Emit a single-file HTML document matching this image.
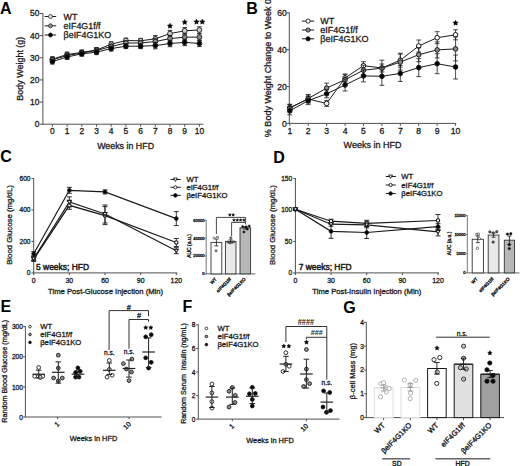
<!DOCTYPE html><html><head><meta charset="utf-8"><title>Figure</title>
<style>html,body{margin:0;padding:0;background:#fff;}body{width:520px;height:466px;overflow:hidden;}svg{display:block;}</style>
</head><body>
<svg width="520" height="466" viewBox="0 0 520 466">
<rect width="520" height="466" fill="#fff"/>
<text x="0.00" y="14.00" font-size="16" text-anchor="start" font-weight="bold" fill="#000" font-family='"Liberation Sans", sans-serif' >A</text>
<line x1="42.90" y1="13.00" x2="42.90" y2="124.20" stroke="#505050" stroke-width="1.0" />
<line x1="42.40" y1="124.20" x2="203.50" y2="124.20" stroke="#505050" stroke-width="1.0" />
<line x1="39.70" y1="124.20" x2="42.90" y2="124.20" stroke="#505050" stroke-width="1.0" />
<text x="39.30" y="127.10" font-size="8.4" text-anchor="end" font-weight="normal" fill="#1a1a1a" stroke="#1a1a1a" stroke-width="0.3" font-family='"Liberation Sans", sans-serif' >0</text>
<line x1="39.70" y1="102.06" x2="42.90" y2="102.06" stroke="#505050" stroke-width="1.0" />
<text x="39.30" y="104.96" font-size="8.4" text-anchor="end" font-weight="normal" fill="#1a1a1a" stroke="#1a1a1a" stroke-width="0.3" font-family='"Liberation Sans", sans-serif' >10</text>
<line x1="39.70" y1="79.92" x2="42.90" y2="79.92" stroke="#505050" stroke-width="1.0" />
<text x="39.30" y="82.82" font-size="8.4" text-anchor="end" font-weight="normal" fill="#1a1a1a" stroke="#1a1a1a" stroke-width="0.3" font-family='"Liberation Sans", sans-serif' >20</text>
<line x1="39.70" y1="57.78" x2="42.90" y2="57.78" stroke="#505050" stroke-width="1.0" />
<text x="39.30" y="60.68" font-size="8.4" text-anchor="end" font-weight="normal" fill="#1a1a1a" stroke="#1a1a1a" stroke-width="0.3" font-family='"Liberation Sans", sans-serif' >30</text>
<line x1="39.70" y1="35.64" x2="42.90" y2="35.64" stroke="#505050" stroke-width="1.0" />
<text x="39.30" y="38.54" font-size="8.4" text-anchor="end" font-weight="normal" fill="#1a1a1a" stroke="#1a1a1a" stroke-width="0.3" font-family='"Liberation Sans", sans-serif' >40</text>
<line x1="39.70" y1="13.50" x2="42.90" y2="13.50" stroke="#505050" stroke-width="1.0" />
<text x="39.30" y="16.40" font-size="8.4" text-anchor="end" font-weight="normal" fill="#1a1a1a" stroke="#1a1a1a" stroke-width="0.3" font-family='"Liberation Sans", sans-serif' >50</text>
<line x1="52.40" y1="124.20" x2="52.40" y2="126.70" stroke="#505050" stroke-width="1.0" />
<text x="52.40" y="134.40" font-size="8.4" text-anchor="middle" font-weight="normal" fill="#1a1a1a" stroke="#1a1a1a" stroke-width="0.3" font-family='"Liberation Sans", sans-serif' >0</text>
<line x1="67.10" y1="124.20" x2="67.10" y2="126.70" stroke="#505050" stroke-width="1.0" />
<text x="67.10" y="134.40" font-size="8.4" text-anchor="middle" font-weight="normal" fill="#1a1a1a" stroke="#1a1a1a" stroke-width="0.3" font-family='"Liberation Sans", sans-serif' >1</text>
<line x1="81.80" y1="124.20" x2="81.80" y2="126.70" stroke="#505050" stroke-width="1.0" />
<text x="81.80" y="134.40" font-size="8.4" text-anchor="middle" font-weight="normal" fill="#1a1a1a" stroke="#1a1a1a" stroke-width="0.3" font-family='"Liberation Sans", sans-serif' >2</text>
<line x1="96.50" y1="124.20" x2="96.50" y2="126.70" stroke="#505050" stroke-width="1.0" />
<text x="96.50" y="134.40" font-size="8.4" text-anchor="middle" font-weight="normal" fill="#1a1a1a" stroke="#1a1a1a" stroke-width="0.3" font-family='"Liberation Sans", sans-serif' >3</text>
<line x1="111.20" y1="124.20" x2="111.20" y2="126.70" stroke="#505050" stroke-width="1.0" />
<text x="111.20" y="134.40" font-size="8.4" text-anchor="middle" font-weight="normal" fill="#1a1a1a" stroke="#1a1a1a" stroke-width="0.3" font-family='"Liberation Sans", sans-serif' >4</text>
<line x1="125.90" y1="124.20" x2="125.90" y2="126.70" stroke="#505050" stroke-width="1.0" />
<text x="125.90" y="134.40" font-size="8.4" text-anchor="middle" font-weight="normal" fill="#1a1a1a" stroke="#1a1a1a" stroke-width="0.3" font-family='"Liberation Sans", sans-serif' >5</text>
<line x1="140.60" y1="124.20" x2="140.60" y2="126.70" stroke="#505050" stroke-width="1.0" />
<text x="140.60" y="134.40" font-size="8.4" text-anchor="middle" font-weight="normal" fill="#1a1a1a" stroke="#1a1a1a" stroke-width="0.3" font-family='"Liberation Sans", sans-serif' >6</text>
<line x1="155.30" y1="124.20" x2="155.30" y2="126.70" stroke="#505050" stroke-width="1.0" />
<text x="155.30" y="134.40" font-size="8.4" text-anchor="middle" font-weight="normal" fill="#1a1a1a" stroke="#1a1a1a" stroke-width="0.3" font-family='"Liberation Sans", sans-serif' >7</text>
<line x1="170.00" y1="124.20" x2="170.00" y2="126.70" stroke="#505050" stroke-width="1.0" />
<text x="170.00" y="134.40" font-size="8.4" text-anchor="middle" font-weight="normal" fill="#1a1a1a" stroke="#1a1a1a" stroke-width="0.3" font-family='"Liberation Sans", sans-serif' >8</text>
<line x1="184.70" y1="124.20" x2="184.70" y2="126.70" stroke="#505050" stroke-width="1.0" />
<text x="184.70" y="134.40" font-size="8.4" text-anchor="middle" font-weight="normal" fill="#1a1a1a" stroke="#1a1a1a" stroke-width="0.3" font-family='"Liberation Sans", sans-serif' >9</text>
<line x1="199.40" y1="124.20" x2="199.40" y2="126.70" stroke="#505050" stroke-width="1.0" />
<text x="199.40" y="134.40" font-size="8.4" text-anchor="middle" font-weight="normal" fill="#1a1a1a" stroke="#1a1a1a" stroke-width="0.3" font-family='"Liberation Sans", sans-serif' >10</text>
<text x="125.60" y="149.20" font-size="8.85" text-anchor="middle" font-weight="normal" fill="#1a1a1a" stroke="#1a1a1a" stroke-width="0.3" font-family='"Liberation Sans", sans-serif' >Weeks in HFD</text>
<text x="23.20" y="68.70" font-size="8.95" text-anchor="middle" font-weight="normal" fill="#1a1a1a" stroke="#1a1a1a" stroke-width="0.3" font-family='"Liberation Sans", sans-serif' transform="rotate(-90 23.20 68.70)" >Body Weight (g)</text>
<polyline points="52.40,59.20 67.10,54.50 81.80,52.40 96.50,50.00 111.20,44.20 125.90,40.50 140.60,40.80 155.30,38.80 170.00,33.60 184.70,30.80 199.40,30.00" fill="none" stroke="#1a1a1a" stroke-width="1.0"/>
<line x1="52.40" y1="56.80" x2="52.40" y2="61.60" stroke="#1a1a1a" stroke-width="0.9" />
<line x1="50.10" y1="56.80" x2="54.70" y2="56.80" stroke="#1a1a1a" stroke-width="0.9" />
<line x1="50.10" y1="61.60" x2="54.70" y2="61.60" stroke="#1a1a1a" stroke-width="0.9" />
<circle cx="52.40" cy="59.20" r="2.4" fill="#d0d0d0" stroke="#1a1a1a" stroke-width="0.9"/>
<line x1="67.10" y1="52.10" x2="67.10" y2="56.90" stroke="#1a1a1a" stroke-width="0.9" />
<line x1="64.80" y1="52.10" x2="69.40" y2="52.10" stroke="#1a1a1a" stroke-width="0.9" />
<line x1="64.80" y1="56.90" x2="69.40" y2="56.90" stroke="#1a1a1a" stroke-width="0.9" />
<circle cx="67.10" cy="54.50" r="2.4" fill="#d0d0d0" stroke="#1a1a1a" stroke-width="0.9"/>
<line x1="81.80" y1="50.00" x2="81.80" y2="54.80" stroke="#1a1a1a" stroke-width="0.9" />
<line x1="79.50" y1="50.00" x2="84.10" y2="50.00" stroke="#1a1a1a" stroke-width="0.9" />
<line x1="79.50" y1="54.80" x2="84.10" y2="54.80" stroke="#1a1a1a" stroke-width="0.9" />
<circle cx="81.80" cy="52.40" r="2.4" fill="#d0d0d0" stroke="#1a1a1a" stroke-width="0.9"/>
<line x1="96.50" y1="47.60" x2="96.50" y2="52.40" stroke="#1a1a1a" stroke-width="0.9" />
<line x1="94.20" y1="47.60" x2="98.80" y2="47.60" stroke="#1a1a1a" stroke-width="0.9" />
<line x1="94.20" y1="52.40" x2="98.80" y2="52.40" stroke="#1a1a1a" stroke-width="0.9" />
<circle cx="96.50" cy="50.00" r="2.4" fill="#d0d0d0" stroke="#1a1a1a" stroke-width="0.9"/>
<line x1="111.20" y1="41.80" x2="111.20" y2="46.60" stroke="#1a1a1a" stroke-width="0.9" />
<line x1="108.90" y1="41.80" x2="113.50" y2="41.80" stroke="#1a1a1a" stroke-width="0.9" />
<line x1="108.90" y1="46.60" x2="113.50" y2="46.60" stroke="#1a1a1a" stroke-width="0.9" />
<circle cx="111.20" cy="44.20" r="2.4" fill="#d0d0d0" stroke="#1a1a1a" stroke-width="0.9"/>
<line x1="125.90" y1="38.10" x2="125.90" y2="42.90" stroke="#1a1a1a" stroke-width="0.9" />
<line x1="123.60" y1="38.10" x2="128.20" y2="38.10" stroke="#1a1a1a" stroke-width="0.9" />
<line x1="123.60" y1="42.90" x2="128.20" y2="42.90" stroke="#1a1a1a" stroke-width="0.9" />
<circle cx="125.90" cy="40.50" r="2.4" fill="#d0d0d0" stroke="#1a1a1a" stroke-width="0.9"/>
<line x1="140.60" y1="38.40" x2="140.60" y2="43.20" stroke="#1a1a1a" stroke-width="0.9" />
<line x1="138.30" y1="38.40" x2="142.90" y2="38.40" stroke="#1a1a1a" stroke-width="0.9" />
<line x1="138.30" y1="43.20" x2="142.90" y2="43.20" stroke="#1a1a1a" stroke-width="0.9" />
<circle cx="140.60" cy="40.80" r="2.4" fill="#d0d0d0" stroke="#1a1a1a" stroke-width="0.9"/>
<line x1="155.30" y1="35.60" x2="155.30" y2="42.00" stroke="#1a1a1a" stroke-width="0.9" />
<line x1="153.00" y1="35.60" x2="157.60" y2="35.60" stroke="#1a1a1a" stroke-width="0.9" />
<line x1="153.00" y1="42.00" x2="157.60" y2="42.00" stroke="#1a1a1a" stroke-width="0.9" />
<circle cx="155.30" cy="38.80" r="2.4" fill="#d0d0d0" stroke="#1a1a1a" stroke-width="0.9"/>
<line x1="170.00" y1="30.40" x2="170.00" y2="36.80" stroke="#1a1a1a" stroke-width="0.9" />
<line x1="167.70" y1="30.40" x2="172.30" y2="30.40" stroke="#1a1a1a" stroke-width="0.9" />
<line x1="167.70" y1="36.80" x2="172.30" y2="36.80" stroke="#1a1a1a" stroke-width="0.9" />
<circle cx="170.00" cy="33.60" r="2.4" fill="#d0d0d0" stroke="#1a1a1a" stroke-width="0.9"/>
<line x1="184.70" y1="27.60" x2="184.70" y2="34.00" stroke="#1a1a1a" stroke-width="0.9" />
<line x1="182.40" y1="27.60" x2="187.00" y2="27.60" stroke="#1a1a1a" stroke-width="0.9" />
<line x1="182.40" y1="34.00" x2="187.00" y2="34.00" stroke="#1a1a1a" stroke-width="0.9" />
<circle cx="184.70" cy="30.80" r="2.4" fill="#d0d0d0" stroke="#1a1a1a" stroke-width="0.9"/>
<line x1="199.40" y1="26.80" x2="199.40" y2="33.20" stroke="#1a1a1a" stroke-width="0.9" />
<line x1="197.10" y1="26.80" x2="201.70" y2="26.80" stroke="#1a1a1a" stroke-width="0.9" />
<line x1="197.10" y1="33.20" x2="201.70" y2="33.20" stroke="#1a1a1a" stroke-width="0.9" />
<circle cx="199.40" cy="30.00" r="2.4" fill="#d0d0d0" stroke="#1a1a1a" stroke-width="0.9"/>
<polyline points="52.40,59.80 67.10,55.50 81.80,53.00 96.50,50.50 111.20,46.50 125.90,43.00 140.60,43.00 155.30,41.50 170.00,38.60 184.70,37.20 199.40,37.10" fill="none" stroke="#1a1a1a" stroke-width="1.0"/>
<line x1="52.40" y1="57.40" x2="52.40" y2="62.20" stroke="#1a1a1a" stroke-width="0.9" />
<line x1="50.10" y1="57.40" x2="54.70" y2="57.40" stroke="#1a1a1a" stroke-width="0.9" />
<line x1="50.10" y1="62.20" x2="54.70" y2="62.20" stroke="#1a1a1a" stroke-width="0.9" />
<circle cx="52.40" cy="59.80" r="2.4" fill="#8c8c8c" stroke="#1a1a1a" stroke-width="0.9"/>
<line x1="67.10" y1="53.10" x2="67.10" y2="57.90" stroke="#1a1a1a" stroke-width="0.9" />
<line x1="64.80" y1="53.10" x2="69.40" y2="53.10" stroke="#1a1a1a" stroke-width="0.9" />
<line x1="64.80" y1="57.90" x2="69.40" y2="57.90" stroke="#1a1a1a" stroke-width="0.9" />
<circle cx="67.10" cy="55.50" r="2.4" fill="#8c8c8c" stroke="#1a1a1a" stroke-width="0.9"/>
<line x1="81.80" y1="50.60" x2="81.80" y2="55.40" stroke="#1a1a1a" stroke-width="0.9" />
<line x1="79.50" y1="50.60" x2="84.10" y2="50.60" stroke="#1a1a1a" stroke-width="0.9" />
<line x1="79.50" y1="55.40" x2="84.10" y2="55.40" stroke="#1a1a1a" stroke-width="0.9" />
<circle cx="81.80" cy="53.00" r="2.4" fill="#8c8c8c" stroke="#1a1a1a" stroke-width="0.9"/>
<line x1="96.50" y1="48.10" x2="96.50" y2="52.90" stroke="#1a1a1a" stroke-width="0.9" />
<line x1="94.20" y1="48.10" x2="98.80" y2="48.10" stroke="#1a1a1a" stroke-width="0.9" />
<line x1="94.20" y1="52.90" x2="98.80" y2="52.90" stroke="#1a1a1a" stroke-width="0.9" />
<circle cx="96.50" cy="50.50" r="2.4" fill="#8c8c8c" stroke="#1a1a1a" stroke-width="0.9"/>
<line x1="111.20" y1="44.10" x2="111.20" y2="48.90" stroke="#1a1a1a" stroke-width="0.9" />
<line x1="108.90" y1="44.10" x2="113.50" y2="44.10" stroke="#1a1a1a" stroke-width="0.9" />
<line x1="108.90" y1="48.90" x2="113.50" y2="48.90" stroke="#1a1a1a" stroke-width="0.9" />
<circle cx="111.20" cy="46.50" r="2.4" fill="#8c8c8c" stroke="#1a1a1a" stroke-width="0.9"/>
<line x1="125.90" y1="40.60" x2="125.90" y2="45.40" stroke="#1a1a1a" stroke-width="0.9" />
<line x1="123.60" y1="40.60" x2="128.20" y2="40.60" stroke="#1a1a1a" stroke-width="0.9" />
<line x1="123.60" y1="45.40" x2="128.20" y2="45.40" stroke="#1a1a1a" stroke-width="0.9" />
<circle cx="125.90" cy="43.00" r="2.4" fill="#8c8c8c" stroke="#1a1a1a" stroke-width="0.9"/>
<line x1="140.60" y1="40.60" x2="140.60" y2="45.40" stroke="#1a1a1a" stroke-width="0.9" />
<line x1="138.30" y1="40.60" x2="142.90" y2="40.60" stroke="#1a1a1a" stroke-width="0.9" />
<line x1="138.30" y1="45.40" x2="142.90" y2="45.40" stroke="#1a1a1a" stroke-width="0.9" />
<circle cx="140.60" cy="43.00" r="2.4" fill="#8c8c8c" stroke="#1a1a1a" stroke-width="0.9"/>
<line x1="155.30" y1="38.30" x2="155.30" y2="44.70" stroke="#1a1a1a" stroke-width="0.9" />
<line x1="153.00" y1="38.30" x2="157.60" y2="38.30" stroke="#1a1a1a" stroke-width="0.9" />
<line x1="153.00" y1="44.70" x2="157.60" y2="44.70" stroke="#1a1a1a" stroke-width="0.9" />
<circle cx="155.30" cy="41.50" r="2.4" fill="#8c8c8c" stroke="#1a1a1a" stroke-width="0.9"/>
<line x1="170.00" y1="35.40" x2="170.00" y2="41.80" stroke="#1a1a1a" stroke-width="0.9" />
<line x1="167.70" y1="35.40" x2="172.30" y2="35.40" stroke="#1a1a1a" stroke-width="0.9" />
<line x1="167.70" y1="41.80" x2="172.30" y2="41.80" stroke="#1a1a1a" stroke-width="0.9" />
<circle cx="170.00" cy="38.60" r="2.4" fill="#8c8c8c" stroke="#1a1a1a" stroke-width="0.9"/>
<line x1="184.70" y1="34.00" x2="184.70" y2="40.40" stroke="#1a1a1a" stroke-width="0.9" />
<line x1="182.40" y1="34.00" x2="187.00" y2="34.00" stroke="#1a1a1a" stroke-width="0.9" />
<line x1="182.40" y1="40.40" x2="187.00" y2="40.40" stroke="#1a1a1a" stroke-width="0.9" />
<circle cx="184.70" cy="37.20" r="2.4" fill="#8c8c8c" stroke="#1a1a1a" stroke-width="0.9"/>
<line x1="199.40" y1="33.90" x2="199.40" y2="40.30" stroke="#1a1a1a" stroke-width="0.9" />
<line x1="197.10" y1="33.90" x2="201.70" y2="33.90" stroke="#1a1a1a" stroke-width="0.9" />
<line x1="197.10" y1="40.30" x2="201.70" y2="40.30" stroke="#1a1a1a" stroke-width="0.9" />
<circle cx="199.40" cy="37.10" r="2.4" fill="#8c8c8c" stroke="#1a1a1a" stroke-width="0.9"/>
<polyline points="52.40,61.60 67.10,57.00 81.80,53.80 96.50,52.20 111.20,48.60 125.90,46.20 140.60,46.20 155.30,45.60 170.00,43.50 184.70,42.40 199.40,43.40" fill="none" stroke="#1a1a1a" stroke-width="1.0"/>
<line x1="52.40" y1="59.20" x2="52.40" y2="64.00" stroke="#1a1a1a" stroke-width="0.9" />
<line x1="50.10" y1="59.20" x2="54.70" y2="59.20" stroke="#1a1a1a" stroke-width="0.9" />
<line x1="50.10" y1="64.00" x2="54.70" y2="64.00" stroke="#1a1a1a" stroke-width="0.9" />
<circle cx="52.40" cy="61.60" r="2.4" fill="#000" stroke="#1a1a1a" stroke-width="0.9"/>
<line x1="67.10" y1="54.60" x2="67.10" y2="59.40" stroke="#1a1a1a" stroke-width="0.9" />
<line x1="64.80" y1="54.60" x2="69.40" y2="54.60" stroke="#1a1a1a" stroke-width="0.9" />
<line x1="64.80" y1="59.40" x2="69.40" y2="59.40" stroke="#1a1a1a" stroke-width="0.9" />
<circle cx="67.10" cy="57.00" r="2.4" fill="#000" stroke="#1a1a1a" stroke-width="0.9"/>
<line x1="81.80" y1="51.40" x2="81.80" y2="56.20" stroke="#1a1a1a" stroke-width="0.9" />
<line x1="79.50" y1="51.40" x2="84.10" y2="51.40" stroke="#1a1a1a" stroke-width="0.9" />
<line x1="79.50" y1="56.20" x2="84.10" y2="56.20" stroke="#1a1a1a" stroke-width="0.9" />
<circle cx="81.80" cy="53.80" r="2.4" fill="#000" stroke="#1a1a1a" stroke-width="0.9"/>
<line x1="96.50" y1="49.80" x2="96.50" y2="54.60" stroke="#1a1a1a" stroke-width="0.9" />
<line x1="94.20" y1="49.80" x2="98.80" y2="49.80" stroke="#1a1a1a" stroke-width="0.9" />
<line x1="94.20" y1="54.60" x2="98.80" y2="54.60" stroke="#1a1a1a" stroke-width="0.9" />
<circle cx="96.50" cy="52.20" r="2.4" fill="#000" stroke="#1a1a1a" stroke-width="0.9"/>
<line x1="111.20" y1="46.20" x2="111.20" y2="51.00" stroke="#1a1a1a" stroke-width="0.9" />
<line x1="108.90" y1="46.20" x2="113.50" y2="46.20" stroke="#1a1a1a" stroke-width="0.9" />
<line x1="108.90" y1="51.00" x2="113.50" y2="51.00" stroke="#1a1a1a" stroke-width="0.9" />
<circle cx="111.20" cy="48.60" r="2.4" fill="#000" stroke="#1a1a1a" stroke-width="0.9"/>
<line x1="125.90" y1="43.80" x2="125.90" y2="48.60" stroke="#1a1a1a" stroke-width="0.9" />
<line x1="123.60" y1="43.80" x2="128.20" y2="43.80" stroke="#1a1a1a" stroke-width="0.9" />
<line x1="123.60" y1="48.60" x2="128.20" y2="48.60" stroke="#1a1a1a" stroke-width="0.9" />
<circle cx="125.90" cy="46.20" r="2.4" fill="#000" stroke="#1a1a1a" stroke-width="0.9"/>
<line x1="140.60" y1="43.80" x2="140.60" y2="48.60" stroke="#1a1a1a" stroke-width="0.9" />
<line x1="138.30" y1="43.80" x2="142.90" y2="43.80" stroke="#1a1a1a" stroke-width="0.9" />
<line x1="138.30" y1="48.60" x2="142.90" y2="48.60" stroke="#1a1a1a" stroke-width="0.9" />
<circle cx="140.60" cy="46.20" r="2.4" fill="#000" stroke="#1a1a1a" stroke-width="0.9"/>
<line x1="155.30" y1="42.40" x2="155.30" y2="48.80" stroke="#1a1a1a" stroke-width="0.9" />
<line x1="153.00" y1="42.40" x2="157.60" y2="42.40" stroke="#1a1a1a" stroke-width="0.9" />
<line x1="153.00" y1="48.80" x2="157.60" y2="48.80" stroke="#1a1a1a" stroke-width="0.9" />
<circle cx="155.30" cy="45.60" r="2.4" fill="#000" stroke="#1a1a1a" stroke-width="0.9"/>
<line x1="170.00" y1="40.30" x2="170.00" y2="46.70" stroke="#1a1a1a" stroke-width="0.9" />
<line x1="167.70" y1="40.30" x2="172.30" y2="40.30" stroke="#1a1a1a" stroke-width="0.9" />
<line x1="167.70" y1="46.70" x2="172.30" y2="46.70" stroke="#1a1a1a" stroke-width="0.9" />
<circle cx="170.00" cy="43.50" r="2.4" fill="#000" stroke="#1a1a1a" stroke-width="0.9"/>
<line x1="184.70" y1="39.20" x2="184.70" y2="45.60" stroke="#1a1a1a" stroke-width="0.9" />
<line x1="182.40" y1="39.20" x2="187.00" y2="39.20" stroke="#1a1a1a" stroke-width="0.9" />
<line x1="182.40" y1="45.60" x2="187.00" y2="45.60" stroke="#1a1a1a" stroke-width="0.9" />
<circle cx="184.70" cy="42.40" r="2.4" fill="#000" stroke="#1a1a1a" stroke-width="0.9"/>
<line x1="199.40" y1="40.20" x2="199.40" y2="46.60" stroke="#1a1a1a" stroke-width="0.9" />
<line x1="197.10" y1="40.20" x2="201.70" y2="40.20" stroke="#1a1a1a" stroke-width="0.9" />
<line x1="197.10" y1="46.60" x2="201.70" y2="46.60" stroke="#1a1a1a" stroke-width="0.9" />
<circle cx="199.40" cy="43.40" r="2.4" fill="#000" stroke="#1a1a1a" stroke-width="0.9"/>
<line x1="44.60" y1="16.50" x2="56.20" y2="16.50" stroke="#1a1a1a" stroke-width="1.0" />
<circle cx="50.50" cy="16.50" r="2.0" fill="#d9d9d9" stroke="#333" stroke-width="0.8"/>
<text x="63.60" y="19.80" font-size="8.9" text-anchor="start" font-weight="normal" fill="#1a1a1a" stroke="#1a1a1a" stroke-width="0.3" font-family='"Liberation Sans", sans-serif' >WT</text>
<line x1="44.60" y1="25.80" x2="56.20" y2="25.80" stroke="#1a1a1a" stroke-width="1.0" />
<circle cx="50.50" cy="25.80" r="2.0" fill="#8c8c8c" stroke="#333" stroke-width="0.8"/>
<text x="63.60" y="29.10" font-size="8.9" text-anchor="start" font-weight="normal" fill="#1a1a1a" stroke="#1a1a1a" stroke-width="0.3" font-family='"Liberation Sans", sans-serif' >eIF4G1f/f</text>
<line x1="44.60" y1="35.00" x2="56.20" y2="35.00" stroke="#1a1a1a" stroke-width="1.0" />
<circle cx="50.50" cy="35.00" r="2.0" fill="#000" stroke="#1a1a1a" stroke-width="0.8"/>
<text x="63.60" y="38.30" font-size="8.9" text-anchor="start" font-weight="normal" fill="#1a1a1a" stroke="#1a1a1a" stroke-width="0.3" font-family='"Liberation Sans", sans-serif' >&#946;eIF4G1KO</text>
<polygon points="170.00,23.20 170.82,24.87 172.66,25.13 171.33,26.43 171.65,28.27 170.00,27.40 168.35,28.27 168.67,26.43 167.34,25.13 169.18,24.87" fill="#000" stroke="#000" stroke-width="0.4" stroke-linejoin="round"/>
<polygon points="184.70,19.50 185.52,21.17 187.36,21.43 186.03,22.73 186.35,24.57 184.70,23.70 183.05,24.57 183.37,22.73 182.04,21.43 183.88,21.17" fill="#000" stroke="#000" stroke-width="0.4" stroke-linejoin="round"/>
<polygon points="196.50,19.10 197.32,20.77 199.16,21.03 197.83,22.33 198.15,24.17 196.50,23.30 194.85,24.17 195.17,22.33 193.84,21.03 195.68,20.77" fill="#000" stroke="#000" stroke-width="0.4" stroke-linejoin="round"/>
<polygon points="202.30,19.10 203.12,20.77 204.96,21.03 203.63,22.33 203.95,24.17 202.30,23.30 200.65,24.17 200.97,22.33 199.64,21.03 201.48,20.77" fill="#000" stroke="#000" stroke-width="0.4" stroke-linejoin="round"/>
<text x="246.30" y="14.30" font-size="16" text-anchor="start" font-weight="bold" fill="#000" font-family='"Liberation Sans", sans-serif' >B</text>
<line x1="289.30" y1="12.38" x2="289.30" y2="123.40" stroke="#505050" stroke-width="1.0" />
<line x1="288.80" y1="123.40" x2="456.08" y2="123.40" stroke="#505050" stroke-width="1.0" />
<line x1="286.80" y1="123.40" x2="289.30" y2="123.40" stroke="#505050" stroke-width="1.0" />
<text x="286.80" y="126.60" font-size="8.6" text-anchor="end" font-weight="normal" fill="#1a1a1a" stroke="#1a1a1a" stroke-width="0.3" font-family='"Liberation Sans", sans-serif' >0</text>
<line x1="286.80" y1="86.56" x2="289.30" y2="86.56" stroke="#505050" stroke-width="1.0" />
<text x="286.80" y="89.76" font-size="8.6" text-anchor="end" font-weight="normal" fill="#1a1a1a" stroke="#1a1a1a" stroke-width="0.3" font-family='"Liberation Sans", sans-serif' >20</text>
<line x1="286.80" y1="49.72" x2="289.30" y2="49.72" stroke="#505050" stroke-width="1.0" />
<text x="286.80" y="52.92" font-size="8.6" text-anchor="end" font-weight="normal" fill="#1a1a1a" stroke="#1a1a1a" stroke-width="0.3" font-family='"Liberation Sans", sans-serif' >40</text>
<line x1="286.80" y1="12.88" x2="289.30" y2="12.88" stroke="#505050" stroke-width="1.0" />
<text x="286.80" y="16.08" font-size="8.6" text-anchor="end" font-weight="normal" fill="#1a1a1a" stroke="#1a1a1a" stroke-width="0.3" font-family='"Liberation Sans", sans-serif' >60</text>
<line x1="289.80" y1="123.40" x2="289.80" y2="125.90" stroke="#505050" stroke-width="1.0" />
<text x="289.80" y="134.20" font-size="8.6" text-anchor="middle" font-weight="normal" fill="#1a1a1a" stroke="#1a1a1a" stroke-width="0.3" font-family='"Liberation Sans", sans-serif' >1</text>
<line x1="308.22" y1="123.40" x2="308.22" y2="125.90" stroke="#505050" stroke-width="1.0" />
<text x="308.22" y="134.20" font-size="8.6" text-anchor="middle" font-weight="normal" fill="#1a1a1a" stroke="#1a1a1a" stroke-width="0.3" font-family='"Liberation Sans", sans-serif' >2</text>
<line x1="326.64" y1="123.40" x2="326.64" y2="125.90" stroke="#505050" stroke-width="1.0" />
<text x="326.64" y="134.20" font-size="8.6" text-anchor="middle" font-weight="normal" fill="#1a1a1a" stroke="#1a1a1a" stroke-width="0.3" font-family='"Liberation Sans", sans-serif' >3</text>
<line x1="345.06" y1="123.40" x2="345.06" y2="125.90" stroke="#505050" stroke-width="1.0" />
<text x="345.06" y="134.20" font-size="8.6" text-anchor="middle" font-weight="normal" fill="#1a1a1a" stroke="#1a1a1a" stroke-width="0.3" font-family='"Liberation Sans", sans-serif' >4</text>
<line x1="363.48" y1="123.40" x2="363.48" y2="125.90" stroke="#505050" stroke-width="1.0" />
<text x="363.48" y="134.20" font-size="8.6" text-anchor="middle" font-weight="normal" fill="#1a1a1a" stroke="#1a1a1a" stroke-width="0.3" font-family='"Liberation Sans", sans-serif' >5</text>
<line x1="381.90" y1="123.40" x2="381.90" y2="125.90" stroke="#505050" stroke-width="1.0" />
<text x="381.90" y="134.20" font-size="8.6" text-anchor="middle" font-weight="normal" fill="#1a1a1a" stroke="#1a1a1a" stroke-width="0.3" font-family='"Liberation Sans", sans-serif' >6</text>
<line x1="400.32" y1="123.40" x2="400.32" y2="125.90" stroke="#505050" stroke-width="1.0" />
<text x="400.32" y="134.20" font-size="8.6" text-anchor="middle" font-weight="normal" fill="#1a1a1a" stroke="#1a1a1a" stroke-width="0.3" font-family='"Liberation Sans", sans-serif' >7</text>
<line x1="418.74" y1="123.40" x2="418.74" y2="125.90" stroke="#505050" stroke-width="1.0" />
<text x="418.74" y="134.20" font-size="8.6" text-anchor="middle" font-weight="normal" fill="#1a1a1a" stroke="#1a1a1a" stroke-width="0.3" font-family='"Liberation Sans", sans-serif' >8</text>
<line x1="437.16" y1="123.40" x2="437.16" y2="125.90" stroke="#505050" stroke-width="1.0" />
<text x="437.16" y="134.20" font-size="8.6" text-anchor="middle" font-weight="normal" fill="#1a1a1a" stroke="#1a1a1a" stroke-width="0.3" font-family='"Liberation Sans", sans-serif' >9</text>
<line x1="455.58" y1="123.40" x2="455.58" y2="125.90" stroke="#505050" stroke-width="1.0" />
<text x="455.58" y="134.20" font-size="8.6" text-anchor="middle" font-weight="normal" fill="#1a1a1a" stroke="#1a1a1a" stroke-width="0.3" font-family='"Liberation Sans", sans-serif' >10</text>
<text x="372.50" y="148.10" font-size="9.0" text-anchor="middle" font-weight="normal" fill="#1a1a1a" stroke="#1a1a1a" stroke-width="0.3" font-family='"Liberation Sans", sans-serif' >Weeks in HFD</text>
<text x="270.80" y="68.00" font-size="9.0" text-anchor="middle" font-weight="normal" fill="#1a1a1a" stroke="#1a1a1a" stroke-width="0.3" font-family='"Liberation Sans", sans-serif' transform="rotate(-90 270.80 68.00)" >% Body Weight Change to Week 0</text>
<polyline points="289.80,107.60 308.22,99.10 326.64,103.40 345.06,78.00 363.48,65.70 381.90,68.00 400.32,60.20 418.74,46.00 437.16,37.70 455.58,34.80" fill="none" stroke="#1a1a1a" stroke-width="1.0"/>
<line x1="289.80" y1="104.60" x2="289.80" y2="110.60" stroke="#1a1a1a" stroke-width="0.8" />
<line x1="287.40" y1="104.60" x2="292.20" y2="104.60" stroke="#1a1a1a" stroke-width="0.8" />
<line x1="287.40" y1="110.60" x2="292.20" y2="110.60" stroke="#1a1a1a" stroke-width="0.8" />
<line x1="308.22" y1="95.10" x2="308.22" y2="103.10" stroke="#1a1a1a" stroke-width="0.8" />
<line x1="305.82" y1="95.10" x2="310.62" y2="95.10" stroke="#1a1a1a" stroke-width="0.8" />
<line x1="305.82" y1="103.10" x2="310.62" y2="103.10" stroke="#1a1a1a" stroke-width="0.8" />
<line x1="326.64" y1="100.40" x2="326.64" y2="106.40" stroke="#1a1a1a" stroke-width="0.8" />
<line x1="324.24" y1="100.40" x2="329.04" y2="100.40" stroke="#1a1a1a" stroke-width="0.8" />
<line x1="324.24" y1="106.40" x2="329.04" y2="106.40" stroke="#1a1a1a" stroke-width="0.8" />
<line x1="345.06" y1="74.00" x2="345.06" y2="82.00" stroke="#1a1a1a" stroke-width="0.8" />
<line x1="342.66" y1="74.00" x2="347.46" y2="74.00" stroke="#1a1a1a" stroke-width="0.8" />
<line x1="342.66" y1="82.00" x2="347.46" y2="82.00" stroke="#1a1a1a" stroke-width="0.8" />
<line x1="363.48" y1="61.70" x2="363.48" y2="69.70" stroke="#1a1a1a" stroke-width="0.8" />
<line x1="361.08" y1="61.70" x2="365.88" y2="61.70" stroke="#1a1a1a" stroke-width="0.8" />
<line x1="361.08" y1="69.70" x2="365.88" y2="69.70" stroke="#1a1a1a" stroke-width="0.8" />
<line x1="381.90" y1="64.00" x2="381.90" y2="72.00" stroke="#1a1a1a" stroke-width="0.8" />
<line x1="379.50" y1="64.00" x2="384.30" y2="64.00" stroke="#1a1a1a" stroke-width="0.8" />
<line x1="379.50" y1="72.00" x2="384.30" y2="72.00" stroke="#1a1a1a" stroke-width="0.8" />
<line x1="400.32" y1="53.20" x2="400.32" y2="67.20" stroke="#1a1a1a" stroke-width="0.8" />
<line x1="397.92" y1="53.20" x2="402.72" y2="53.20" stroke="#1a1a1a" stroke-width="0.8" />
<line x1="397.92" y1="67.20" x2="402.72" y2="67.20" stroke="#1a1a1a" stroke-width="0.8" />
<line x1="418.74" y1="40.00" x2="418.74" y2="52.00" stroke="#1a1a1a" stroke-width="0.8" />
<line x1="416.34" y1="40.00" x2="421.14" y2="40.00" stroke="#1a1a1a" stroke-width="0.8" />
<line x1="416.34" y1="52.00" x2="421.14" y2="52.00" stroke="#1a1a1a" stroke-width="0.8" />
<line x1="437.16" y1="31.70" x2="437.16" y2="43.70" stroke="#1a1a1a" stroke-width="0.8" />
<line x1="434.76" y1="31.70" x2="439.56" y2="31.70" stroke="#1a1a1a" stroke-width="0.8" />
<line x1="434.76" y1="43.70" x2="439.56" y2="43.70" stroke="#1a1a1a" stroke-width="0.8" />
<line x1="455.58" y1="29.80" x2="455.58" y2="39.80" stroke="#1a1a1a" stroke-width="0.8" />
<line x1="453.18" y1="29.80" x2="457.98" y2="29.80" stroke="#1a1a1a" stroke-width="0.8" />
<line x1="453.18" y1="39.80" x2="457.98" y2="39.80" stroke="#1a1a1a" stroke-width="0.8" />
<circle cx="289.80" cy="107.60" r="2.3" fill="#fff" stroke="#1a1a1a" stroke-width="1.0"/>
<circle cx="308.22" cy="99.10" r="2.3" fill="#fff" stroke="#1a1a1a" stroke-width="1.0"/>
<circle cx="326.64" cy="103.40" r="2.3" fill="#fff" stroke="#1a1a1a" stroke-width="1.0"/>
<circle cx="345.06" cy="78.00" r="2.3" fill="#fff" stroke="#1a1a1a" stroke-width="1.0"/>
<circle cx="363.48" cy="65.70" r="2.3" fill="#fff" stroke="#1a1a1a" stroke-width="1.0"/>
<circle cx="381.90" cy="68.00" r="2.3" fill="#fff" stroke="#1a1a1a" stroke-width="1.0"/>
<circle cx="400.32" cy="60.20" r="2.3" fill="#fff" stroke="#1a1a1a" stroke-width="1.0"/>
<circle cx="418.74" cy="46.00" r="2.3" fill="#fff" stroke="#1a1a1a" stroke-width="1.0"/>
<circle cx="437.16" cy="37.70" r="2.3" fill="#fff" stroke="#1a1a1a" stroke-width="1.0"/>
<circle cx="455.58" cy="34.80" r="2.3" fill="#fff" stroke="#1a1a1a" stroke-width="1.0"/>
<polyline points="289.80,108.20 308.22,98.50 326.64,88.10 345.06,79.70 363.48,70.20 381.90,68.20 400.32,62.10 418.74,54.70 437.16,49.90 455.58,48.90" fill="none" stroke="#1a1a1a" stroke-width="1.0"/>
<line x1="289.80" y1="104.20" x2="289.80" y2="112.20" stroke="#1a1a1a" stroke-width="0.8" />
<line x1="287.40" y1="104.20" x2="292.20" y2="104.20" stroke="#1a1a1a" stroke-width="0.8" />
<line x1="287.40" y1="112.20" x2="292.20" y2="112.20" stroke="#1a1a1a" stroke-width="0.8" />
<line x1="308.22" y1="94.50" x2="308.22" y2="102.50" stroke="#1a1a1a" stroke-width="0.8" />
<line x1="305.82" y1="94.50" x2="310.62" y2="94.50" stroke="#1a1a1a" stroke-width="0.8" />
<line x1="305.82" y1="102.50" x2="310.62" y2="102.50" stroke="#1a1a1a" stroke-width="0.8" />
<line x1="326.64" y1="83.10" x2="326.64" y2="93.10" stroke="#1a1a1a" stroke-width="0.8" />
<line x1="324.24" y1="83.10" x2="329.04" y2="83.10" stroke="#1a1a1a" stroke-width="0.8" />
<line x1="324.24" y1="93.10" x2="329.04" y2="93.10" stroke="#1a1a1a" stroke-width="0.8" />
<line x1="345.06" y1="74.70" x2="345.06" y2="84.70" stroke="#1a1a1a" stroke-width="0.8" />
<line x1="342.66" y1="74.70" x2="347.46" y2="74.70" stroke="#1a1a1a" stroke-width="0.8" />
<line x1="342.66" y1="84.70" x2="347.46" y2="84.70" stroke="#1a1a1a" stroke-width="0.8" />
<line x1="363.48" y1="65.20" x2="363.48" y2="75.20" stroke="#1a1a1a" stroke-width="0.8" />
<line x1="361.08" y1="65.20" x2="365.88" y2="65.20" stroke="#1a1a1a" stroke-width="0.8" />
<line x1="361.08" y1="75.20" x2="365.88" y2="75.20" stroke="#1a1a1a" stroke-width="0.8" />
<line x1="381.90" y1="60.20" x2="381.90" y2="76.20" stroke="#1a1a1a" stroke-width="0.8" />
<line x1="379.50" y1="60.20" x2="384.30" y2="60.20" stroke="#1a1a1a" stroke-width="0.8" />
<line x1="379.50" y1="76.20" x2="384.30" y2="76.20" stroke="#1a1a1a" stroke-width="0.8" />
<line x1="400.32" y1="54.10" x2="400.32" y2="70.10" stroke="#1a1a1a" stroke-width="0.8" />
<line x1="397.92" y1="54.10" x2="402.72" y2="54.10" stroke="#1a1a1a" stroke-width="0.8" />
<line x1="397.92" y1="70.10" x2="402.72" y2="70.10" stroke="#1a1a1a" stroke-width="0.8" />
<line x1="418.74" y1="47.70" x2="418.74" y2="61.70" stroke="#1a1a1a" stroke-width="0.8" />
<line x1="416.34" y1="47.70" x2="421.14" y2="47.70" stroke="#1a1a1a" stroke-width="0.8" />
<line x1="416.34" y1="61.70" x2="421.14" y2="61.70" stroke="#1a1a1a" stroke-width="0.8" />
<line x1="437.16" y1="41.90" x2="437.16" y2="57.90" stroke="#1a1a1a" stroke-width="0.8" />
<line x1="434.76" y1="41.90" x2="439.56" y2="41.90" stroke="#1a1a1a" stroke-width="0.8" />
<line x1="434.76" y1="57.90" x2="439.56" y2="57.90" stroke="#1a1a1a" stroke-width="0.8" />
<line x1="455.58" y1="36.90" x2="455.58" y2="60.90" stroke="#1a1a1a" stroke-width="0.8" />
<line x1="453.18" y1="36.90" x2="457.98" y2="36.90" stroke="#1a1a1a" stroke-width="0.8" />
<line x1="453.18" y1="60.90" x2="457.98" y2="60.90" stroke="#1a1a1a" stroke-width="0.8" />
<circle cx="289.80" cy="108.20" r="2.3" fill="#8c8c8c" stroke="#1a1a1a" stroke-width="1.0"/>
<circle cx="308.22" cy="98.50" r="2.3" fill="#8c8c8c" stroke="#1a1a1a" stroke-width="1.0"/>
<circle cx="326.64" cy="88.10" r="2.3" fill="#8c8c8c" stroke="#1a1a1a" stroke-width="1.0"/>
<circle cx="345.06" cy="79.70" r="2.3" fill="#8c8c8c" stroke="#1a1a1a" stroke-width="1.0"/>
<circle cx="363.48" cy="70.20" r="2.3" fill="#8c8c8c" stroke="#1a1a1a" stroke-width="1.0"/>
<circle cx="381.90" cy="68.20" r="2.3" fill="#8c8c8c" stroke="#1a1a1a" stroke-width="1.0"/>
<circle cx="400.32" cy="62.10" r="2.3" fill="#8c8c8c" stroke="#1a1a1a" stroke-width="1.0"/>
<circle cx="418.74" cy="54.70" r="2.3" fill="#8c8c8c" stroke="#1a1a1a" stroke-width="1.0"/>
<circle cx="437.16" cy="49.90" r="2.3" fill="#8c8c8c" stroke="#1a1a1a" stroke-width="1.0"/>
<circle cx="455.58" cy="48.90" r="2.3" fill="#8c8c8c" stroke="#1a1a1a" stroke-width="1.0"/>
<polyline points="289.80,110.80 308.22,100.60 326.64,93.80 345.06,85.00 363.48,75.90 381.90,76.30 400.32,73.40 418.74,67.60 437.16,63.70 455.58,67.00" fill="none" stroke="#1a1a1a" stroke-width="1.0"/>
<line x1="289.80" y1="106.80" x2="289.80" y2="114.80" stroke="#1a1a1a" stroke-width="0.8" />
<line x1="287.40" y1="106.80" x2="292.20" y2="106.80" stroke="#1a1a1a" stroke-width="0.8" />
<line x1="287.40" y1="114.80" x2="292.20" y2="114.80" stroke="#1a1a1a" stroke-width="0.8" />
<line x1="308.22" y1="96.60" x2="308.22" y2="104.60" stroke="#1a1a1a" stroke-width="0.8" />
<line x1="305.82" y1="96.60" x2="310.62" y2="96.60" stroke="#1a1a1a" stroke-width="0.8" />
<line x1="305.82" y1="104.60" x2="310.62" y2="104.60" stroke="#1a1a1a" stroke-width="0.8" />
<line x1="326.64" y1="89.80" x2="326.64" y2="97.80" stroke="#1a1a1a" stroke-width="0.8" />
<line x1="324.24" y1="89.80" x2="329.04" y2="89.80" stroke="#1a1a1a" stroke-width="0.8" />
<line x1="324.24" y1="97.80" x2="329.04" y2="97.80" stroke="#1a1a1a" stroke-width="0.8" />
<line x1="345.06" y1="79.00" x2="345.06" y2="91.00" stroke="#1a1a1a" stroke-width="0.8" />
<line x1="342.66" y1="79.00" x2="347.46" y2="79.00" stroke="#1a1a1a" stroke-width="0.8" />
<line x1="342.66" y1="91.00" x2="347.46" y2="91.00" stroke="#1a1a1a" stroke-width="0.8" />
<line x1="363.48" y1="69.90" x2="363.48" y2="81.90" stroke="#1a1a1a" stroke-width="0.8" />
<line x1="361.08" y1="69.90" x2="365.88" y2="69.90" stroke="#1a1a1a" stroke-width="0.8" />
<line x1="361.08" y1="81.90" x2="365.88" y2="81.90" stroke="#1a1a1a" stroke-width="0.8" />
<line x1="381.90" y1="67.30" x2="381.90" y2="85.30" stroke="#1a1a1a" stroke-width="0.8" />
<line x1="379.50" y1="67.30" x2="384.30" y2="67.30" stroke="#1a1a1a" stroke-width="0.8" />
<line x1="379.50" y1="85.30" x2="384.30" y2="85.30" stroke="#1a1a1a" stroke-width="0.8" />
<line x1="400.32" y1="65.40" x2="400.32" y2="81.40" stroke="#1a1a1a" stroke-width="0.8" />
<line x1="397.92" y1="65.40" x2="402.72" y2="65.40" stroke="#1a1a1a" stroke-width="0.8" />
<line x1="397.92" y1="81.40" x2="402.72" y2="81.40" stroke="#1a1a1a" stroke-width="0.8" />
<line x1="418.74" y1="58.60" x2="418.74" y2="76.60" stroke="#1a1a1a" stroke-width="0.8" />
<line x1="416.34" y1="58.60" x2="421.14" y2="58.60" stroke="#1a1a1a" stroke-width="0.8" />
<line x1="416.34" y1="76.60" x2="421.14" y2="76.60" stroke="#1a1a1a" stroke-width="0.8" />
<line x1="437.16" y1="53.70" x2="437.16" y2="73.70" stroke="#1a1a1a" stroke-width="0.8" />
<line x1="434.76" y1="53.70" x2="439.56" y2="53.70" stroke="#1a1a1a" stroke-width="0.8" />
<line x1="434.76" y1="73.70" x2="439.56" y2="73.70" stroke="#1a1a1a" stroke-width="0.8" />
<line x1="455.58" y1="55.00" x2="455.58" y2="79.00" stroke="#1a1a1a" stroke-width="0.8" />
<line x1="453.18" y1="55.00" x2="457.98" y2="55.00" stroke="#1a1a1a" stroke-width="0.8" />
<line x1="453.18" y1="79.00" x2="457.98" y2="79.00" stroke="#1a1a1a" stroke-width="0.8" />
<circle cx="289.80" cy="110.80" r="2.3" fill="#000" stroke="#1a1a1a" stroke-width="1.0"/>
<circle cx="308.22" cy="100.60" r="2.3" fill="#000" stroke="#1a1a1a" stroke-width="1.0"/>
<circle cx="326.64" cy="93.80" r="2.3" fill="#000" stroke="#1a1a1a" stroke-width="1.0"/>
<circle cx="345.06" cy="85.00" r="2.3" fill="#000" stroke="#1a1a1a" stroke-width="1.0"/>
<circle cx="363.48" cy="75.90" r="2.3" fill="#000" stroke="#1a1a1a" stroke-width="1.0"/>
<circle cx="381.90" cy="76.30" r="2.3" fill="#000" stroke="#1a1a1a" stroke-width="1.0"/>
<circle cx="400.32" cy="73.40" r="2.3" fill="#000" stroke="#1a1a1a" stroke-width="1.0"/>
<circle cx="418.74" cy="67.60" r="2.3" fill="#000" stroke="#1a1a1a" stroke-width="1.0"/>
<circle cx="437.16" cy="63.70" r="2.3" fill="#000" stroke="#1a1a1a" stroke-width="1.0"/>
<circle cx="455.58" cy="67.00" r="2.3" fill="#000" stroke="#1a1a1a" stroke-width="1.0"/>
<line x1="301.90" y1="21.10" x2="314.20" y2="21.10" stroke="#1a1a1a" stroke-width="1.0" />
<circle cx="308.10" cy="21.10" r="2.1" fill="#fff" stroke="#1a1a1a" stroke-width="0.9"/>
<text x="320.30" y="24.40" font-size="9.0" text-anchor="start" font-weight="normal" fill="#1a1a1a" stroke="#1a1a1a" stroke-width="0.3" font-family='"Liberation Sans", sans-serif' >WT</text>
<line x1="301.90" y1="30.00" x2="314.20" y2="30.00" stroke="#1a1a1a" stroke-width="1.0" />
<circle cx="308.10" cy="30.00" r="2.1" fill="#8c8c8c" stroke="#1a1a1a" stroke-width="0.9"/>
<text x="320.30" y="33.30" font-size="9.0" text-anchor="start" font-weight="normal" fill="#1a1a1a" stroke="#1a1a1a" stroke-width="0.3" font-family='"Liberation Sans", sans-serif' >eIF4G1f/f</text>
<line x1="301.90" y1="38.80" x2="314.20" y2="38.80" stroke="#1a1a1a" stroke-width="1.0" />
<circle cx="308.10" cy="38.80" r="2.1" fill="#000" stroke="#1a1a1a" stroke-width="0.9"/>
<text x="320.30" y="42.10" font-size="9.0" text-anchor="start" font-weight="normal" fill="#1a1a1a" stroke="#1a1a1a" stroke-width="0.3" font-family='"Liberation Sans", sans-serif' >&#946;eIF4G1KO</text>
<polygon points="455.58,20.20 456.40,21.87 458.24,22.13 456.91,23.43 457.23,25.27 455.58,24.40 453.93,25.27 454.25,23.43 452.92,22.13 454.76,21.87" fill="#000" stroke="#000" stroke-width="0.4" stroke-linejoin="round"/>
<text x="0.20" y="162.00" font-size="16" text-anchor="start" font-weight="bold" fill="#000" font-family='"Liberation Sans", sans-serif' >C</text>
<line x1="33.70" y1="178.05" x2="33.70" y2="272.90" stroke="#505050" stroke-width="1.0" />
<line x1="33.20" y1="272.90" x2="177.30" y2="272.90" stroke="#505050" stroke-width="1.0" />
<line x1="31.50" y1="272.90" x2="33.70" y2="272.90" stroke="#505050" stroke-width="1.0" />
<text x="30.50" y="275.30" font-size="6.6" text-anchor="end" font-weight="normal" fill="#1a1a1a" stroke="#1a1a1a" stroke-width="0.3" font-family='"Liberation Sans", sans-serif' >0</text>
<line x1="31.50" y1="241.45" x2="33.70" y2="241.45" stroke="#505050" stroke-width="1.0" />
<text x="30.50" y="243.85" font-size="6.6" text-anchor="end" font-weight="normal" fill="#1a1a1a" stroke="#1a1a1a" stroke-width="0.3" font-family='"Liberation Sans", sans-serif' >200</text>
<line x1="31.50" y1="210.00" x2="33.70" y2="210.00" stroke="#505050" stroke-width="1.0" />
<text x="30.50" y="212.40" font-size="6.6" text-anchor="end" font-weight="normal" fill="#1a1a1a" stroke="#1a1a1a" stroke-width="0.3" font-family='"Liberation Sans", sans-serif' >400</text>
<line x1="31.50" y1="178.55" x2="33.70" y2="178.55" stroke="#505050" stroke-width="1.0" />
<text x="30.50" y="180.95" font-size="6.6" text-anchor="end" font-weight="normal" fill="#1a1a1a" stroke="#1a1a1a" stroke-width="0.3" font-family='"Liberation Sans", sans-serif' >600</text>
<line x1="33.70" y1="272.90" x2="33.70" y2="275.10" stroke="#505050" stroke-width="1.0" />
<text x="33.70" y="282.50" font-size="6.9" text-anchor="middle" font-weight="normal" fill="#1a1a1a" stroke="#1a1a1a" stroke-width="0.3" font-family='"Liberation Sans", sans-serif' >0</text>
<line x1="69.35" y1="272.90" x2="69.35" y2="275.10" stroke="#505050" stroke-width="1.0" />
<text x="69.35" y="282.50" font-size="6.9" text-anchor="middle" font-weight="normal" fill="#1a1a1a" stroke="#1a1a1a" stroke-width="0.3" font-family='"Liberation Sans", sans-serif' >30</text>
<line x1="105.00" y1="272.90" x2="105.00" y2="275.10" stroke="#505050" stroke-width="1.0" />
<text x="105.00" y="282.50" font-size="6.9" text-anchor="middle" font-weight="normal" fill="#1a1a1a" stroke="#1a1a1a" stroke-width="0.3" font-family='"Liberation Sans", sans-serif' >60</text>
<line x1="140.65" y1="272.90" x2="140.65" y2="275.10" stroke="#505050" stroke-width="1.0" />
<text x="140.65" y="282.50" font-size="6.9" text-anchor="middle" font-weight="normal" fill="#1a1a1a" stroke="#1a1a1a" stroke-width="0.3" font-family='"Liberation Sans", sans-serif' >90</text>
<line x1="176.30" y1="272.90" x2="176.30" y2="275.10" stroke="#505050" stroke-width="1.0" />
<text x="176.30" y="282.50" font-size="6.9" text-anchor="middle" font-weight="normal" fill="#1a1a1a" stroke="#1a1a1a" stroke-width="0.3" font-family='"Liberation Sans", sans-serif' >120</text>
<text x="105.60" y="293.80" font-size="7.67" text-anchor="middle" font-weight="normal" fill="#1a1a1a" stroke="#1a1a1a" stroke-width="0.3" font-family='"Liberation Sans", sans-serif' >Time Post-Glucose Injection (Min)</text>
<text x="12.40" y="225.00" font-size="7.8" text-anchor="middle" font-weight="normal" fill="#1a1a1a" stroke="#1a1a1a" stroke-width="0.3" font-family='"Liberation Sans", sans-serif' transform="rotate(-90 12.40 225.00)" >Blood Glucose (mg/dL)</text>
<text x="36.00" y="270.00" font-size="9.3" text-anchor="start" font-weight="normal" fill="#1a1a1a" stroke="#1a1a1a" stroke-width="0.5" font-family='"Liberation Sans", sans-serif' textLength="53" lengthAdjust="spacingAndGlyphs">5 weeks; HFD</text>
<polyline points="33.70,253.70 69.35,190.30 105.00,191.90 176.30,218.60" fill="none" stroke="#1a1a1a" stroke-width="1.2"/>
<line x1="33.70" y1="251.70" x2="33.70" y2="255.70" stroke="#1a1a1a" stroke-width="0.9" />
<line x1="31.20" y1="251.70" x2="36.20" y2="251.70" stroke="#1a1a1a" stroke-width="0.9" />
<line x1="31.20" y1="255.70" x2="36.20" y2="255.70" stroke="#1a1a1a" stroke-width="0.9" />
<line x1="69.35" y1="187.30" x2="69.35" y2="193.30" stroke="#1a1a1a" stroke-width="0.9" />
<line x1="66.85" y1="187.30" x2="71.85" y2="187.30" stroke="#1a1a1a" stroke-width="0.9" />
<line x1="66.85" y1="193.30" x2="71.85" y2="193.30" stroke="#1a1a1a" stroke-width="0.9" />
<line x1="105.00" y1="189.90" x2="105.00" y2="193.90" stroke="#1a1a1a" stroke-width="0.9" />
<line x1="102.50" y1="189.90" x2="107.50" y2="189.90" stroke="#1a1a1a" stroke-width="0.9" />
<line x1="102.50" y1="193.90" x2="107.50" y2="193.90" stroke="#1a1a1a" stroke-width="0.9" />
<line x1="176.30" y1="211.60" x2="176.30" y2="225.60" stroke="#1a1a1a" stroke-width="0.9" />
<line x1="173.80" y1="211.60" x2="178.80" y2="211.60" stroke="#1a1a1a" stroke-width="0.9" />
<line x1="173.80" y1="225.60" x2="178.80" y2="225.60" stroke="#1a1a1a" stroke-width="0.9" />
<polyline points="33.70,259.40 69.35,205.30 105.00,215.60 176.30,242.50" fill="none" stroke="#1a1a1a" stroke-width="1.2"/>
<line x1="33.70" y1="257.40" x2="33.70" y2="261.40" stroke="#1a1a1a" stroke-width="0.9" />
<line x1="31.20" y1="257.40" x2="36.20" y2="257.40" stroke="#1a1a1a" stroke-width="0.9" />
<line x1="31.20" y1="261.40" x2="36.20" y2="261.40" stroke="#1a1a1a" stroke-width="0.9" />
<line x1="69.35" y1="201.30" x2="69.35" y2="209.30" stroke="#1a1a1a" stroke-width="0.9" />
<line x1="66.85" y1="201.30" x2="71.85" y2="201.30" stroke="#1a1a1a" stroke-width="0.9" />
<line x1="66.85" y1="209.30" x2="71.85" y2="209.30" stroke="#1a1a1a" stroke-width="0.9" />
<line x1="105.00" y1="206.60" x2="105.00" y2="224.60" stroke="#1a1a1a" stroke-width="0.9" />
<line x1="102.50" y1="206.60" x2="107.50" y2="206.60" stroke="#1a1a1a" stroke-width="0.9" />
<line x1="102.50" y1="224.60" x2="107.50" y2="224.60" stroke="#1a1a1a" stroke-width="0.9" />
<line x1="176.30" y1="238.50" x2="176.30" y2="246.50" stroke="#1a1a1a" stroke-width="0.9" />
<line x1="173.80" y1="238.50" x2="178.80" y2="238.50" stroke="#1a1a1a" stroke-width="0.9" />
<line x1="173.80" y1="246.50" x2="178.80" y2="246.50" stroke="#1a1a1a" stroke-width="0.9" />
<polyline points="33.70,258.60 69.35,201.90 105.00,214.00 176.30,250.70" fill="none" stroke="#1a1a1a" stroke-width="1.2"/>
<line x1="33.70" y1="256.60" x2="33.70" y2="260.60" stroke="#1a1a1a" stroke-width="0.9" />
<line x1="31.20" y1="256.60" x2="36.20" y2="256.60" stroke="#1a1a1a" stroke-width="0.9" />
<line x1="31.20" y1="260.60" x2="36.20" y2="260.60" stroke="#1a1a1a" stroke-width="0.9" />
<line x1="69.35" y1="196.90" x2="69.35" y2="206.90" stroke="#1a1a1a" stroke-width="0.9" />
<line x1="66.85" y1="196.90" x2="71.85" y2="196.90" stroke="#1a1a1a" stroke-width="0.9" />
<line x1="66.85" y1="206.90" x2="71.85" y2="206.90" stroke="#1a1a1a" stroke-width="0.9" />
<line x1="105.00" y1="205.00" x2="105.00" y2="223.00" stroke="#1a1a1a" stroke-width="0.9" />
<line x1="102.50" y1="205.00" x2="107.50" y2="205.00" stroke="#1a1a1a" stroke-width="0.9" />
<line x1="102.50" y1="223.00" x2="107.50" y2="223.00" stroke="#1a1a1a" stroke-width="0.9" />
<line x1="176.30" y1="247.70" x2="176.30" y2="253.70" stroke="#1a1a1a" stroke-width="0.9" />
<line x1="173.80" y1="247.70" x2="178.80" y2="247.70" stroke="#1a1a1a" stroke-width="0.9" />
<line x1="173.80" y1="253.70" x2="178.80" y2="253.70" stroke="#1a1a1a" stroke-width="0.9" />
<circle cx="33.70" cy="253.70" r="1.9" fill="#000" stroke="#1a1a1a" stroke-width="0.8"/>
<circle cx="69.35" cy="190.30" r="1.9" fill="#000" stroke="#1a1a1a" stroke-width="0.8"/>
<circle cx="105.00" cy="191.90" r="1.9" fill="#000" stroke="#1a1a1a" stroke-width="0.8"/>
<circle cx="176.30" cy="218.60" r="1.9" fill="#000" stroke="#1a1a1a" stroke-width="0.8"/>
<circle cx="33.70" cy="259.40" r="1.7" fill="#fff" stroke="#1a1a1a" stroke-width="1.1"/>
<circle cx="69.35" cy="205.30" r="1.7" fill="#fff" stroke="#1a1a1a" stroke-width="1.1"/>
<circle cx="105.00" cy="215.60" r="1.7" fill="#fff" stroke="#1a1a1a" stroke-width="1.1"/>
<circle cx="176.30" cy="242.50" r="1.7" fill="#fff" stroke="#1a1a1a" stroke-width="1.1"/>
<polygon points="31.70,257.10 35.70,257.10 33.70,260.60" fill="#fff" stroke="#1a1a1a" stroke-width="1.1"/>
<polygon points="67.35,200.40 71.35,200.40 69.35,203.90" fill="#fff" stroke="#1a1a1a" stroke-width="1.1"/>
<polygon points="103.00,212.50 107.00,212.50 105.00,216.00" fill="#fff" stroke="#1a1a1a" stroke-width="1.1"/>
<polygon points="174.30,249.20 178.30,249.20 176.30,252.70" fill="#fff" stroke="#1a1a1a" stroke-width="1.1"/>
<line x1="170.50" y1="179.50" x2="180.80" y2="179.50" stroke="#1a1a1a" stroke-width="1.0" />
<polygon points="173.50,178.07 177.30,178.07 175.40,181.40" fill="#fff" stroke="#1a1a1a" stroke-width="0.9"/>
<text x="186.40" y="182.30" font-size="7.7" text-anchor="start" font-weight="normal" fill="#1a1a1a" stroke="#1a1a1a" stroke-width="0.3" font-family='"Liberation Sans", sans-serif' >WT</text>
<line x1="170.50" y1="187.30" x2="180.80" y2="187.30" stroke="#1a1a1a" stroke-width="1.0" />
<circle cx="175.40" cy="187.30" r="1.6" fill="#fff" stroke="#1a1a1a" stroke-width="0.9"/>
<text x="186.40" y="190.10" font-size="7.7" text-anchor="start" font-weight="normal" fill="#1a1a1a" stroke="#1a1a1a" stroke-width="0.3" font-family='"Liberation Sans", sans-serif' >eIF4G1f/f</text>
<line x1="170.50" y1="195.40" x2="180.80" y2="195.40" stroke="#1a1a1a" stroke-width="1.0" />
<circle cx="175.40" cy="195.40" r="1.8" fill="#000" stroke="#1a1a1a" stroke-width="0.8"/>
<text x="186.40" y="198.20" font-size="7.7" text-anchor="start" font-weight="normal" fill="#1a1a1a" stroke="#1a1a1a" stroke-width="0.3" font-family='"Liberation Sans", sans-serif' >&#946;eIF4G1KO</text>
<line x1="206.20" y1="219.90" x2="206.20" y2="273.90" stroke="#505050" stroke-width="0.8" />
<line x1="205.90" y1="273.90" x2="255.30" y2="273.90" stroke="#505050" stroke-width="0.9" />
<line x1="204.60" y1="273.90" x2="206.20" y2="273.90" stroke="#505050" stroke-width="0.8" />
<text x="204.40" y="275.35" font-size="4.0" text-anchor="end" font-weight="normal" fill="#1a1a1a" stroke="#1a1a1a" stroke-width="0.35" font-family='"Liberation Sans", sans-serif' >0</text>
<line x1="204.60" y1="256.00" x2="206.20" y2="256.00" stroke="#505050" stroke-width="0.8" />
<text x="204.40" y="257.45" font-size="4.0" text-anchor="end" font-weight="normal" fill="#1a1a1a" stroke="#1a1a1a" stroke-width="0.35" font-family='"Liberation Sans", sans-serif' >20000</text>
<line x1="204.60" y1="238.10" x2="206.20" y2="238.10" stroke="#505050" stroke-width="0.8" />
<text x="204.40" y="239.55" font-size="4.0" text-anchor="end" font-weight="normal" fill="#1a1a1a" stroke="#1a1a1a" stroke-width="0.35" font-family='"Liberation Sans", sans-serif' >40000</text>
<line x1="204.60" y1="220.20" x2="206.20" y2="220.20" stroke="#505050" stroke-width="0.8" />
<text x="204.40" y="221.65" font-size="4.0" text-anchor="end" font-weight="normal" fill="#1a1a1a" stroke="#1a1a1a" stroke-width="0.35" font-family='"Liberation Sans", sans-serif' >60000</text>
<text x="190.90" y="246.00" font-size="5.0" text-anchor="middle" font-weight="normal" fill="#1a1a1a" stroke="#1a1a1a" stroke-width="0.35" font-family='"Liberation Sans", sans-serif' transform="rotate(-90 190.90 246.00)" >AUC (a.u.)</text>
<rect x="211.0" y="242.4" width="10.80" height="31.50" fill="#fff" stroke="#333" stroke-width="0.9"/>
<line x1="216.40" y1="238.90" x2="216.40" y2="245.90" stroke="#1a1a1a" stroke-width="0.8" />
<line x1="214.40" y1="238.90" x2="218.40" y2="238.90" stroke="#1a1a1a" stroke-width="0.8" />
<line x1="214.40" y1="245.90" x2="218.40" y2="245.90" stroke="#1a1a1a" stroke-width="0.8" />
<rect x="225.4" y="241.4" width="10.60" height="32.50" fill="#e8e8e8" stroke="#333" stroke-width="0.9"/>
<line x1="230.70" y1="239.90" x2="230.70" y2="242.90" stroke="#1a1a1a" stroke-width="0.8" />
<line x1="228.70" y1="239.90" x2="232.70" y2="239.90" stroke="#1a1a1a" stroke-width="0.8" />
<line x1="228.70" y1="242.90" x2="232.70" y2="242.90" stroke="#1a1a1a" stroke-width="0.8" />
<rect x="240.0" y="227.8" width="10.60" height="46.10" fill="#b8b8b8" stroke="#333" stroke-width="0.9"/>
<line x1="245.30" y1="226.60" x2="245.30" y2="229.00" stroke="#1a1a1a" stroke-width="0.8" />
<line x1="243.30" y1="226.60" x2="247.30" y2="226.60" stroke="#1a1a1a" stroke-width="0.8" />
<line x1="243.30" y1="229.00" x2="247.30" y2="229.00" stroke="#1a1a1a" stroke-width="0.8" />
<circle cx="214.10" cy="238.10" r="1.1" fill="#fff" stroke="#1a1a1a" stroke-width="0.5"/>
<circle cx="217.50" cy="237.10" r="1.1" fill="#fff" stroke="#1a1a1a" stroke-width="0.5"/>
<circle cx="217.00" cy="238.60" r="1.1" fill="#fff" stroke="#1a1a1a" stroke-width="0.5"/>
<circle cx="216.10" cy="250.80" r="1.1" fill="#999" stroke="#1a1a1a" stroke-width="0.5"/>
<circle cx="227.80" cy="242.00" r="1.1" fill="#777" stroke="#1a1a1a" stroke-width="0.5"/>
<circle cx="229.80" cy="242.80" r="1.1" fill="#777" stroke="#1a1a1a" stroke-width="0.5"/>
<circle cx="232.00" cy="242.20" r="1.1" fill="#777" stroke="#1a1a1a" stroke-width="0.5"/>
<circle cx="233.80" cy="241.80" r="1.1" fill="#777" stroke="#1a1a1a" stroke-width="0.5"/>
<circle cx="230.80" cy="237.80" r="1.1" fill="#777" stroke="#1a1a1a" stroke-width="0.5"/>
<circle cx="242.70" cy="226.70" r="1.1" fill="#000" stroke="#1a1a1a" stroke-width="0.5"/>
<circle cx="246.20" cy="226.90" r="1.1" fill="#000" stroke="#1a1a1a" stroke-width="0.5"/>
<circle cx="249.20" cy="226.00" r="1.1" fill="#000" stroke="#1a1a1a" stroke-width="0.5"/>
<circle cx="247.30" cy="229.10" r="1.1" fill="#000" stroke="#1a1a1a" stroke-width="0.5"/>
<circle cx="243.90" cy="232.00" r="1.1" fill="#000" stroke="#1a1a1a" stroke-width="0.5"/>
<polyline points="216.40,234.00 216.40,217.40 245.60,217.40 245.60,224.50" fill="none" stroke="#1a1a1a" stroke-width="0.8"/>
<polyline points="231.60,236.00 231.60,222.40 245.60,222.40" fill="none" stroke="#1a1a1a" stroke-width="0.8"/>
<polygon points="229.85,213.40 230.29,214.29 231.28,214.44 230.56,215.13 230.73,216.11 229.85,215.65 228.97,216.11 229.14,215.13 228.42,214.44 229.41,214.29" fill="#000" stroke="#000" stroke-width="0.4" stroke-linejoin="round"/>
<polygon points="233.15,213.40 233.59,214.29 234.58,214.44 233.86,215.13 234.03,216.11 233.15,215.65 232.27,216.11 232.44,215.13 231.72,214.44 232.71,214.29" fill="#000" stroke="#000" stroke-width="0.4" stroke-linejoin="round"/>
<polygon points="233.95,218.60 234.39,219.49 235.38,219.64 234.66,220.33 234.83,221.31 233.95,220.85 233.07,221.31 233.24,220.33 232.52,219.64 233.51,219.49" fill="#000" stroke="#000" stroke-width="0.4" stroke-linejoin="round"/>
<polygon points="237.25,218.60 237.69,219.49 238.68,219.64 237.96,220.33 238.13,221.31 237.25,220.85 236.37,221.31 236.54,220.33 235.82,219.64 236.81,219.49" fill="#000" stroke="#000" stroke-width="0.4" stroke-linejoin="round"/>
<polygon points="240.55,218.60 240.99,219.49 241.98,219.64 241.26,220.33 241.43,221.31 240.55,220.85 239.67,221.31 239.84,220.33 239.12,219.64 240.11,219.49" fill="#000" stroke="#000" stroke-width="0.4" stroke-linejoin="round"/>
<polygon points="243.85,218.60 244.29,219.49 245.28,219.64 244.56,220.33 244.73,221.31 243.85,220.85 242.97,221.31 243.14,220.33 242.42,219.64 243.41,219.49" fill="#000" stroke="#000" stroke-width="0.4" stroke-linejoin="round"/>
<text x="217.00" y="279.50" font-size="4.5" text-anchor="end" font-weight="normal" fill="#1a1a1a" stroke="#1a1a1a" stroke-width="0.4" font-family='"Liberation Sans", sans-serif' transform="rotate(-45 217.00 279.50)" >WT</text>
<text x="231.50" y="279.50" font-size="4.5" text-anchor="end" font-weight="normal" fill="#1a1a1a" stroke="#1a1a1a" stroke-width="0.4" font-family='"Liberation Sans", sans-serif' transform="rotate(-45 231.50 279.50)" >eIF4G1f/f</text>
<text x="246.00" y="279.50" font-size="4.5" text-anchor="end" font-weight="normal" fill="#1a1a1a" stroke="#1a1a1a" stroke-width="0.4" font-family='"Liberation Sans", sans-serif' transform="rotate(-45 246.00 279.50)" >&#946;eIF4G1KO</text>
<text x="273.20" y="162.80" font-size="16" text-anchor="start" font-weight="bold" fill="#000" font-family='"Liberation Sans", sans-serif' >D</text>
<line x1="295.40" y1="178.05" x2="295.40" y2="272.90" stroke="#505050" stroke-width="1.0" />
<line x1="294.90" y1="272.90" x2="439.00" y2="272.90" stroke="#505050" stroke-width="1.0" />
<line x1="293.20" y1="272.90" x2="295.40" y2="272.90" stroke="#505050" stroke-width="1.0" />
<text x="292.20" y="275.30" font-size="6.6" text-anchor="end" font-weight="normal" fill="#1a1a1a" stroke="#1a1a1a" stroke-width="0.3" font-family='"Liberation Sans", sans-serif' >0</text>
<line x1="293.20" y1="241.45" x2="295.40" y2="241.45" stroke="#505050" stroke-width="1.0" />
<text x="292.20" y="243.85" font-size="6.6" text-anchor="end" font-weight="normal" fill="#1a1a1a" stroke="#1a1a1a" stroke-width="0.3" font-family='"Liberation Sans", sans-serif' >50</text>
<line x1="293.20" y1="210.00" x2="295.40" y2="210.00" stroke="#505050" stroke-width="1.0" />
<text x="292.20" y="212.40" font-size="6.6" text-anchor="end" font-weight="normal" fill="#1a1a1a" stroke="#1a1a1a" stroke-width="0.3" font-family='"Liberation Sans", sans-serif' >100</text>
<line x1="293.20" y1="178.55" x2="295.40" y2="178.55" stroke="#505050" stroke-width="1.0" />
<text x="292.20" y="180.95" font-size="6.6" text-anchor="end" font-weight="normal" fill="#1a1a1a" stroke="#1a1a1a" stroke-width="0.3" font-family='"Liberation Sans", sans-serif' >150</text>
<line x1="295.40" y1="272.90" x2="295.40" y2="275.10" stroke="#505050" stroke-width="1.0" />
<text x="295.40" y="282.50" font-size="6.9" text-anchor="middle" font-weight="normal" fill="#1a1a1a" stroke="#1a1a1a" stroke-width="0.3" font-family='"Liberation Sans", sans-serif' >0</text>
<line x1="331.05" y1="272.90" x2="331.05" y2="275.10" stroke="#505050" stroke-width="1.0" />
<text x="331.05" y="282.50" font-size="6.9" text-anchor="middle" font-weight="normal" fill="#1a1a1a" stroke="#1a1a1a" stroke-width="0.3" font-family='"Liberation Sans", sans-serif' >30</text>
<line x1="366.70" y1="272.90" x2="366.70" y2="275.10" stroke="#505050" stroke-width="1.0" />
<text x="366.70" y="282.50" font-size="6.9" text-anchor="middle" font-weight="normal" fill="#1a1a1a" stroke="#1a1a1a" stroke-width="0.3" font-family='"Liberation Sans", sans-serif' >60</text>
<line x1="402.35" y1="272.90" x2="402.35" y2="275.10" stroke="#505050" stroke-width="1.0" />
<text x="402.35" y="282.50" font-size="6.9" text-anchor="middle" font-weight="normal" fill="#1a1a1a" stroke="#1a1a1a" stroke-width="0.3" font-family='"Liberation Sans", sans-serif' >90</text>
<line x1="438.00" y1="272.90" x2="438.00" y2="275.10" stroke="#505050" stroke-width="1.0" />
<text x="438.00" y="282.50" font-size="6.9" text-anchor="middle" font-weight="normal" fill="#1a1a1a" stroke="#1a1a1a" stroke-width="0.3" font-family='"Liberation Sans", sans-serif' >120</text>
<text x="366.90" y="293.80" font-size="7.67" text-anchor="middle" font-weight="normal" fill="#1a1a1a" stroke="#1a1a1a" stroke-width="0.3" font-family='"Liberation Sans", sans-serif' >Time Post-Insulin Injection (Min)</text>
<text x="275.00" y="225.00" font-size="7.8" text-anchor="middle" font-weight="normal" fill="#1a1a1a" stroke="#1a1a1a" stroke-width="0.3" font-family='"Liberation Sans", sans-serif' transform="rotate(-90 275.00 225.00)" >Blood Glucose (mg/dL)</text>
<text x="298.70" y="270.00" font-size="9.3" text-anchor="start" font-weight="normal" fill="#1a1a1a" stroke="#1a1a1a" stroke-width="0.5" font-family='"Liberation Sans", sans-serif' textLength="53" lengthAdjust="spacingAndGlyphs">7 weeks; HFD</text>
<polyline points="295.40,209.20 331.05,231.30 366.70,232.50 438.00,226.70" fill="none" stroke="#1a1a1a" stroke-width="1.2"/>
<line x1="295.40" y1="208.20" x2="295.40" y2="210.20" stroke="#1a1a1a" stroke-width="0.9" />
<line x1="292.90" y1="208.20" x2="297.90" y2="208.20" stroke="#1a1a1a" stroke-width="0.9" />
<line x1="292.90" y1="210.20" x2="297.90" y2="210.20" stroke="#1a1a1a" stroke-width="0.9" />
<line x1="331.05" y1="224.30" x2="331.05" y2="238.30" stroke="#1a1a1a" stroke-width="0.9" />
<line x1="328.55" y1="224.30" x2="333.55" y2="224.30" stroke="#1a1a1a" stroke-width="0.9" />
<line x1="328.55" y1="238.30" x2="333.55" y2="238.30" stroke="#1a1a1a" stroke-width="0.9" />
<line x1="366.70" y1="226.50" x2="366.70" y2="238.50" stroke="#1a1a1a" stroke-width="0.9" />
<line x1="364.20" y1="226.50" x2="369.20" y2="226.50" stroke="#1a1a1a" stroke-width="0.9" />
<line x1="364.20" y1="238.50" x2="369.20" y2="238.50" stroke="#1a1a1a" stroke-width="0.9" />
<line x1="438.00" y1="223.70" x2="438.00" y2="229.70" stroke="#1a1a1a" stroke-width="0.9" />
<line x1="435.50" y1="223.70" x2="440.50" y2="223.70" stroke="#1a1a1a" stroke-width="0.9" />
<line x1="435.50" y1="229.70" x2="440.50" y2="229.70" stroke="#1a1a1a" stroke-width="0.9" />
<polyline points="295.40,209.20 331.05,221.20 366.70,223.30 438.00,220.50" fill="none" stroke="#1a1a1a" stroke-width="1.2"/>
<line x1="295.40" y1="208.20" x2="295.40" y2="210.20" stroke="#1a1a1a" stroke-width="0.9" />
<line x1="292.90" y1="208.20" x2="297.90" y2="208.20" stroke="#1a1a1a" stroke-width="0.9" />
<line x1="292.90" y1="210.20" x2="297.90" y2="210.20" stroke="#1a1a1a" stroke-width="0.9" />
<line x1="331.05" y1="219.20" x2="331.05" y2="223.20" stroke="#1a1a1a" stroke-width="0.9" />
<line x1="328.55" y1="219.20" x2="333.55" y2="219.20" stroke="#1a1a1a" stroke-width="0.9" />
<line x1="328.55" y1="223.20" x2="333.55" y2="223.20" stroke="#1a1a1a" stroke-width="0.9" />
<line x1="366.70" y1="220.30" x2="366.70" y2="226.30" stroke="#1a1a1a" stroke-width="0.9" />
<line x1="364.20" y1="220.30" x2="369.20" y2="220.30" stroke="#1a1a1a" stroke-width="0.9" />
<line x1="364.20" y1="226.30" x2="369.20" y2="226.30" stroke="#1a1a1a" stroke-width="0.9" />
<line x1="438.00" y1="214.50" x2="438.00" y2="226.50" stroke="#1a1a1a" stroke-width="0.9" />
<line x1="435.50" y1="214.50" x2="440.50" y2="214.50" stroke="#1a1a1a" stroke-width="0.9" />
<line x1="435.50" y1="226.50" x2="440.50" y2="226.50" stroke="#1a1a1a" stroke-width="0.9" />
<polyline points="295.40,209.20 331.05,224.20 366.70,224.80 438.00,231.90" fill="none" stroke="#1a1a1a" stroke-width="1.2"/>
<line x1="295.40" y1="208.20" x2="295.40" y2="210.20" stroke="#1a1a1a" stroke-width="0.9" />
<line x1="292.90" y1="208.20" x2="297.90" y2="208.20" stroke="#1a1a1a" stroke-width="0.9" />
<line x1="292.90" y1="210.20" x2="297.90" y2="210.20" stroke="#1a1a1a" stroke-width="0.9" />
<line x1="331.05" y1="222.20" x2="331.05" y2="226.20" stroke="#1a1a1a" stroke-width="0.9" />
<line x1="328.55" y1="222.20" x2="333.55" y2="222.20" stroke="#1a1a1a" stroke-width="0.9" />
<line x1="328.55" y1="226.20" x2="333.55" y2="226.20" stroke="#1a1a1a" stroke-width="0.9" />
<line x1="366.70" y1="221.80" x2="366.70" y2="227.80" stroke="#1a1a1a" stroke-width="0.9" />
<line x1="364.20" y1="221.80" x2="369.20" y2="221.80" stroke="#1a1a1a" stroke-width="0.9" />
<line x1="364.20" y1="227.80" x2="369.20" y2="227.80" stroke="#1a1a1a" stroke-width="0.9" />
<line x1="438.00" y1="227.90" x2="438.00" y2="235.90" stroke="#1a1a1a" stroke-width="0.9" />
<line x1="435.50" y1="227.90" x2="440.50" y2="227.90" stroke="#1a1a1a" stroke-width="0.9" />
<line x1="435.50" y1="235.90" x2="440.50" y2="235.90" stroke="#1a1a1a" stroke-width="0.9" />
<circle cx="295.40" cy="209.20" r="1.9" fill="#000" stroke="#1a1a1a" stroke-width="0.8"/>
<circle cx="331.05" cy="231.30" r="1.9" fill="#000" stroke="#1a1a1a" stroke-width="0.8"/>
<circle cx="366.70" cy="232.50" r="1.9" fill="#000" stroke="#1a1a1a" stroke-width="0.8"/>
<circle cx="438.00" cy="226.70" r="1.9" fill="#000" stroke="#1a1a1a" stroke-width="0.8"/>
<circle cx="295.40" cy="209.20" r="1.7" fill="#fff" stroke="#1a1a1a" stroke-width="1.1"/>
<circle cx="331.05" cy="221.20" r="1.7" fill="#fff" stroke="#1a1a1a" stroke-width="1.1"/>
<circle cx="366.70" cy="223.30" r="1.7" fill="#fff" stroke="#1a1a1a" stroke-width="1.1"/>
<circle cx="438.00" cy="220.50" r="1.7" fill="#fff" stroke="#1a1a1a" stroke-width="1.1"/>
<polygon points="293.40,207.70 297.40,207.70 295.40,211.20" fill="#fff" stroke="#1a1a1a" stroke-width="1.1"/>
<polygon points="329.05,222.70 333.05,222.70 331.05,226.20" fill="#fff" stroke="#1a1a1a" stroke-width="1.1"/>
<polygon points="364.70,223.30 368.70,223.30 366.70,226.80" fill="#fff" stroke="#1a1a1a" stroke-width="1.1"/>
<polygon points="436.00,230.40 440.00,230.40 438.00,233.90" fill="#fff" stroke="#1a1a1a" stroke-width="1.1"/>
<line x1="385.80" y1="176.50" x2="395.80" y2="176.50" stroke="#1a1a1a" stroke-width="1.0" />
<polygon points="388.70,175.07 392.50,175.07 390.60,178.40" fill="#fff" stroke="#1a1a1a" stroke-width="0.9"/>
<text x="401.30" y="179.30" font-size="7.7" text-anchor="start" font-weight="normal" fill="#1a1a1a" stroke="#1a1a1a" stroke-width="0.3" font-family='"Liberation Sans", sans-serif' >WT</text>
<line x1="385.80" y1="185.00" x2="395.80" y2="185.00" stroke="#1a1a1a" stroke-width="1.0" />
<circle cx="390.60" cy="185.00" r="1.6" fill="#fff" stroke="#1a1a1a" stroke-width="0.9"/>
<text x="401.30" y="187.80" font-size="7.7" text-anchor="start" font-weight="normal" fill="#1a1a1a" stroke="#1a1a1a" stroke-width="0.3" font-family='"Liberation Sans", sans-serif' >eIF4G1f/f</text>
<line x1="385.80" y1="193.50" x2="395.80" y2="193.50" stroke="#1a1a1a" stroke-width="1.0" />
<circle cx="390.60" cy="193.50" r="1.8" fill="#000" stroke="#1a1a1a" stroke-width="0.8"/>
<text x="401.30" y="196.30" font-size="7.7" text-anchor="start" font-weight="normal" fill="#1a1a1a" stroke="#1a1a1a" stroke-width="0.3" font-family='"Liberation Sans", sans-serif' >&#946;eIF4G1KO</text>
<line x1="467.30" y1="215.30" x2="467.30" y2="272.90" stroke="#505050" stroke-width="0.8" />
<line x1="467.00" y1="272.90" x2="519.50" y2="272.90" stroke="#505050" stroke-width="0.9" />
<line x1="465.70" y1="272.90" x2="467.30" y2="272.90" stroke="#505050" stroke-width="0.8" />
<text x="465.50" y="274.35" font-size="4.0" text-anchor="end" font-weight="normal" fill="#1a1a1a" stroke="#1a1a1a" stroke-width="0.35" font-family='"Liberation Sans", sans-serif' >0</text>
<line x1="465.70" y1="253.80" x2="467.30" y2="253.80" stroke="#505050" stroke-width="0.8" />
<text x="465.50" y="255.25" font-size="4.0" text-anchor="end" font-weight="normal" fill="#1a1a1a" stroke="#1a1a1a" stroke-width="0.35" font-family='"Liberation Sans", sans-serif' >5000</text>
<line x1="465.70" y1="234.70" x2="467.30" y2="234.70" stroke="#505050" stroke-width="0.8" />
<text x="465.50" y="236.15" font-size="4.0" text-anchor="end" font-weight="normal" fill="#1a1a1a" stroke="#1a1a1a" stroke-width="0.35" font-family='"Liberation Sans", sans-serif' >10000</text>
<line x1="465.70" y1="215.60" x2="467.30" y2="215.60" stroke="#505050" stroke-width="0.8" />
<text x="465.50" y="217.05" font-size="4.0" text-anchor="end" font-weight="normal" fill="#1a1a1a" stroke="#1a1a1a" stroke-width="0.35" font-family='"Liberation Sans", sans-serif' >15000</text>
<text x="450.60" y="243.50" font-size="5.0" text-anchor="middle" font-weight="normal" fill="#1a1a1a" stroke="#1a1a1a" stroke-width="0.35" font-family='"Liberation Sans", sans-serif' transform="rotate(-90 450.60 243.50)" >AUC (a.u.)</text>
<rect x="472.2" y="239.3" width="11.20" height="33.60" fill="#fff" stroke="#333" stroke-width="0.9"/>
<line x1="477.80" y1="235.90" x2="477.80" y2="242.70" stroke="#1a1a1a" stroke-width="0.8" />
<line x1="475.80" y1="235.90" x2="479.80" y2="235.90" stroke="#1a1a1a" stroke-width="0.8" />
<line x1="475.80" y1="242.70" x2="479.80" y2="242.70" stroke="#1a1a1a" stroke-width="0.8" />
<rect x="488.2" y="235.1" width="10.70" height="37.80" fill="#e8e8e8" stroke="#333" stroke-width="0.9"/>
<line x1="493.55" y1="233.00" x2="493.55" y2="237.20" stroke="#1a1a1a" stroke-width="0.8" />
<line x1="491.55" y1="233.00" x2="495.55" y2="233.00" stroke="#1a1a1a" stroke-width="0.8" />
<line x1="491.55" y1="237.20" x2="495.55" y2="237.20" stroke="#1a1a1a" stroke-width="0.8" />
<rect x="504.3" y="240.2" width="10.30" height="32.70" fill="#b8b8b8" stroke="#333" stroke-width="0.9"/>
<line x1="509.45" y1="236.00" x2="509.45" y2="244.40" stroke="#1a1a1a" stroke-width="0.8" />
<line x1="507.45" y1="236.00" x2="511.45" y2="236.00" stroke="#1a1a1a" stroke-width="0.8" />
<line x1="507.45" y1="244.40" x2="511.45" y2="244.40" stroke="#1a1a1a" stroke-width="0.8" />
<circle cx="476.80" cy="234.60" r="1.2" fill="#fff" stroke="#1a1a1a" stroke-width="0.6"/>
<circle cx="478.30" cy="234.10" r="1.2" fill="#fff" stroke="#1a1a1a" stroke-width="0.6"/>
<circle cx="479.30" cy="238.50" r="1.2" fill="#fff" stroke="#1a1a1a" stroke-width="0.6"/>
<circle cx="477.40" cy="248.30" r="1.2" fill="#fff" stroke="#1a1a1a" stroke-width="0.6"/>
<circle cx="489.90" cy="231.90" r="1.2" fill="#666" stroke="#1a1a1a" stroke-width="0.6"/>
<circle cx="493.20" cy="232.90" r="1.2" fill="#666" stroke="#1a1a1a" stroke-width="0.6"/>
<circle cx="496.80" cy="231.70" r="1.2" fill="#666" stroke="#1a1a1a" stroke-width="0.6"/>
<circle cx="493.20" cy="242.10" r="1.2" fill="#666" stroke="#1a1a1a" stroke-width="0.6"/>
<circle cx="507.40" cy="234.10" r="1.2" fill="#000" stroke="#1a1a1a" stroke-width="0.6"/>
<circle cx="510.80" cy="233.70" r="1.2" fill="#000" stroke="#1a1a1a" stroke-width="0.6"/>
<circle cx="509.20" cy="244.70" r="1.2" fill="#000" stroke="#1a1a1a" stroke-width="0.6"/>
<circle cx="509.30" cy="248.60" r="1.2" fill="#000" stroke="#1a1a1a" stroke-width="0.6"/>
<text x="478.00" y="279.30" font-size="4.5" text-anchor="end" font-weight="normal" fill="#1a1a1a" stroke="#1a1a1a" stroke-width="0.4" font-family='"Liberation Sans", sans-serif' transform="rotate(-45 478.00 279.30)" >WT</text>
<text x="494.00" y="279.30" font-size="4.5" text-anchor="end" font-weight="normal" fill="#1a1a1a" stroke="#1a1a1a" stroke-width="0.4" font-family='"Liberation Sans", sans-serif' transform="rotate(-45 494.00 279.30)" >eIF4G1f/f</text>
<text x="510.00" y="279.30" font-size="4.5" text-anchor="end" font-weight="normal" fill="#1a1a1a" stroke="#1a1a1a" stroke-width="0.4" font-family='"Liberation Sans", sans-serif' transform="rotate(-45 510.00 279.30)" >&#946;eIF4G1KO</text>
<text x="0.40" y="311.60" font-size="16" text-anchor="start" font-weight="bold" fill="#000" font-family='"Liberation Sans", sans-serif' >E</text>
<line x1="25.40" y1="326.20" x2="25.40" y2="417.00" stroke="#505050" stroke-width="1.0" />
<line x1="24.90" y1="417.00" x2="161.60" y2="417.00" stroke="#505050" stroke-width="1.0" />
<line x1="23.20" y1="417.00" x2="25.40" y2="417.00" stroke="#505050" stroke-width="1.0" />
<text x="22.90" y="419.60" font-size="6.6" text-anchor="end" font-weight="normal" fill="#1a1a1a" stroke="#1a1a1a" stroke-width="0.3" font-family='"Liberation Sans", sans-serif' >0</text>
<line x1="23.20" y1="386.90" x2="25.40" y2="386.90" stroke="#505050" stroke-width="1.0" />
<text x="22.90" y="389.50" font-size="6.6" text-anchor="end" font-weight="normal" fill="#1a1a1a" stroke="#1a1a1a" stroke-width="0.3" font-family='"Liberation Sans", sans-serif' >100</text>
<line x1="23.20" y1="356.80" x2="25.40" y2="356.80" stroke="#505050" stroke-width="1.0" />
<text x="22.90" y="359.40" font-size="6.6" text-anchor="end" font-weight="normal" fill="#1a1a1a" stroke="#1a1a1a" stroke-width="0.3" font-family='"Liberation Sans", sans-serif' >200</text>
<line x1="23.20" y1="326.70" x2="25.40" y2="326.70" stroke="#505050" stroke-width="1.0" />
<text x="22.90" y="329.30" font-size="6.6" text-anchor="end" font-weight="normal" fill="#1a1a1a" stroke="#1a1a1a" stroke-width="0.3" font-family='"Liberation Sans", sans-serif' >300</text>
<line x1="57.60" y1="417.00" x2="57.60" y2="419.20" stroke="#505050" stroke-width="1.0" />
<text x="60.00" y="424.60" font-size="6.8" text-anchor="end" font-weight="normal" fill="#1a1a1a" stroke="#1a1a1a" stroke-width="0.3" font-family='"Liberation Sans", sans-serif' transform="rotate(-45 60.00 424.60)" >1</text>
<line x1="129.00" y1="417.00" x2="129.00" y2="419.20" stroke="#505050" stroke-width="1.0" />
<text x="131.40" y="424.60" font-size="6.8" text-anchor="end" font-weight="normal" fill="#1a1a1a" stroke="#1a1a1a" stroke-width="0.3" font-family='"Liberation Sans", sans-serif' transform="rotate(-45 131.40 424.60)" >10</text>
<text x="93.50" y="441.30" font-size="7.4" text-anchor="middle" font-weight="normal" fill="#1a1a1a" stroke="#1a1a1a" stroke-width="0.3" font-family='"Liberation Sans", sans-serif' >Weeks in HFD</text>
<text x="7.00" y="371.30" font-size="7.2" text-anchor="middle" font-weight="normal" fill="#1a1a1a" stroke="#1a1a1a" stroke-width="0.3" font-family='"Liberation Sans", sans-serif' transform="rotate(-90 7.00 371.30)" >Random Blood Glucose (mg/dL)</text>
<circle cx="30.00" cy="326.60" r="1.35" fill="#fff" stroke="#1a1a1a" stroke-width="0.8"/>
<text x="40.20" y="329.40" font-size="7.7" text-anchor="start" font-weight="normal" fill="#1a1a1a" stroke="#1a1a1a" stroke-width="0.3" font-family='"Liberation Sans", sans-serif' >WT</text>
<circle cx="30.00" cy="334.50" r="1.35" fill="#8c8c8c" stroke="#1a1a1a" stroke-width="0.8"/>
<text x="40.20" y="337.30" font-size="7.7" text-anchor="start" font-weight="normal" fill="#1a1a1a" stroke="#1a1a1a" stroke-width="0.3" font-family='"Liberation Sans", sans-serif' >eIF4G1f/f</text>
<circle cx="30.00" cy="342.40" r="1.35" fill="#000" stroke="#1a1a1a" stroke-width="0.8"/>
<text x="40.20" y="345.20" font-size="7.7" text-anchor="start" font-weight="normal" fill="#1a1a1a" stroke="#1a1a1a" stroke-width="0.3" font-family='"Liberation Sans", sans-serif' >&#946;eIF4G1KO</text>
<circle cx="38.70" cy="367.50" r="1.9" fill="#fff" stroke="#1a1a1a" stroke-width="0.9"/>
<circle cx="34.70" cy="376.30" r="1.9" fill="#fff" stroke="#1a1a1a" stroke-width="0.9"/>
<circle cx="38.40" cy="376.30" r="1.9" fill="#fff" stroke="#1a1a1a" stroke-width="0.9"/>
<circle cx="42.70" cy="376.30" r="1.9" fill="#fff" stroke="#1a1a1a" stroke-width="0.9"/>
<circle cx="40.20" cy="377.50" r="1.9" fill="#fff" stroke="#1a1a1a" stroke-width="0.9"/>
<line x1="32.40" y1="374.20" x2="45.00" y2="374.20" stroke="#222" stroke-width="1.2" />
<line x1="38.70" y1="370.20" x2="38.70" y2="378.00" stroke="#222" stroke-width="1.0" />
<line x1="35.90" y1="370.20" x2="41.50" y2="370.20" stroke="#222" stroke-width="1.0" />
<line x1="35.90" y1="378.00" x2="41.50" y2="378.00" stroke="#222" stroke-width="1.0" />
<circle cx="58.30" cy="355.20" r="1.9" fill="#909090" stroke="#1a1a1a" stroke-width="0.9"/>
<circle cx="58.30" cy="368.10" r="1.9" fill="#909090" stroke="#1a1a1a" stroke-width="0.9"/>
<circle cx="53.60" cy="378.00" r="1.9" fill="#909090" stroke="#1a1a1a" stroke-width="0.9"/>
<circle cx="58.30" cy="380.90" r="1.9" fill="#909090" stroke="#1a1a1a" stroke-width="0.9"/>
<circle cx="62.30" cy="378.00" r="1.9" fill="#909090" stroke="#1a1a1a" stroke-width="0.9"/>
<line x1="52.00" y1="372.30" x2="64.60" y2="372.30" stroke="#222" stroke-width="1.2" />
<line x1="58.30" y1="361.90" x2="58.30" y2="383.20" stroke="#222" stroke-width="1.0" />
<line x1="55.50" y1="361.90" x2="61.10" y2="361.90" stroke="#222" stroke-width="1.0" />
<line x1="55.50" y1="383.20" x2="61.10" y2="383.20" stroke="#222" stroke-width="1.0" />
<circle cx="77.90" cy="367.90" r="1.9" fill="#000" stroke="#1a1a1a" stroke-width="0.9"/>
<circle cx="75.60" cy="372.50" r="1.9" fill="#000" stroke="#1a1a1a" stroke-width="0.9"/>
<circle cx="80.20" cy="371.30" r="1.9" fill="#000" stroke="#1a1a1a" stroke-width="0.9"/>
<circle cx="75.60" cy="377.10" r="1.9" fill="#000" stroke="#1a1a1a" stroke-width="0.9"/>
<circle cx="79.00" cy="377.10" r="1.9" fill="#000" stroke="#1a1a1a" stroke-width="0.9"/>
<line x1="71.60" y1="374.20" x2="84.20" y2="374.20" stroke="#222" stroke-width="1.2" />
<line x1="77.90" y1="371.00" x2="77.90" y2="377.30" stroke="#222" stroke-width="1.0" />
<line x1="75.10" y1="371.00" x2="80.70" y2="371.00" stroke="#222" stroke-width="1.0" />
<line x1="75.10" y1="377.30" x2="80.70" y2="377.30" stroke="#222" stroke-width="1.0" />
<circle cx="109.30" cy="360.40" r="1.9" fill="#fff" stroke="#1a1a1a" stroke-width="0.9"/>
<circle cx="109.30" cy="369.40" r="1.9" fill="#fff" stroke="#1a1a1a" stroke-width="0.9"/>
<circle cx="112.20" cy="375.20" r="1.9" fill="#fff" stroke="#1a1a1a" stroke-width="0.9"/>
<circle cx="107.10" cy="377.10" r="1.9" fill="#fff" stroke="#1a1a1a" stroke-width="0.9"/>
<line x1="103.00" y1="370.30" x2="115.60" y2="370.30" stroke="#222" stroke-width="1.2" />
<line x1="109.30" y1="363.00" x2="109.30" y2="374.50" stroke="#222" stroke-width="1.0" />
<line x1="106.50" y1="363.00" x2="112.10" y2="363.00" stroke="#222" stroke-width="1.0" />
<line x1="106.50" y1="374.50" x2="112.10" y2="374.50" stroke="#222" stroke-width="1.0" />
<circle cx="131.90" cy="359.10" r="1.9" fill="#909090" stroke="#1a1a1a" stroke-width="0.9"/>
<circle cx="123.40" cy="363.60" r="1.9" fill="#909090" stroke="#1a1a1a" stroke-width="0.9"/>
<circle cx="126.40" cy="369.00" r="1.9" fill="#909090" stroke="#1a1a1a" stroke-width="0.9"/>
<circle cx="131.50" cy="372.00" r="1.9" fill="#909090" stroke="#1a1a1a" stroke-width="0.9"/>
<circle cx="129.00" cy="380.60" r="1.9" fill="#909090" stroke="#1a1a1a" stroke-width="0.9"/>
<line x1="122.70" y1="368.50" x2="135.30" y2="368.50" stroke="#222" stroke-width="1.2" />
<line x1="129.00" y1="360.00" x2="129.00" y2="377.10" stroke="#222" stroke-width="1.0" />
<line x1="126.20" y1="360.00" x2="131.80" y2="360.00" stroke="#222" stroke-width="1.0" />
<line x1="126.20" y1="377.10" x2="131.80" y2="377.10" stroke="#222" stroke-width="1.0" />
<circle cx="145.70" cy="336.80" r="1.9" fill="#000" stroke="#1a1a1a" stroke-width="0.9"/>
<circle cx="151.20" cy="334.70" r="1.9" fill="#000" stroke="#1a1a1a" stroke-width="0.9"/>
<circle cx="145.70" cy="357.80" r="1.9" fill="#000" stroke="#1a1a1a" stroke-width="0.9"/>
<circle cx="151.20" cy="362.30" r="1.9" fill="#000" stroke="#1a1a1a" stroke-width="0.9"/>
<circle cx="148.60" cy="368.10" r="1.9" fill="#000" stroke="#1a1a1a" stroke-width="0.9"/>
<line x1="142.30" y1="352.00" x2="154.90" y2="352.00" stroke="#222" stroke-width="1.2" />
<line x1="148.60" y1="337.90" x2="148.60" y2="367.50" stroke="#222" stroke-width="1.0" />
<line x1="145.80" y1="337.90" x2="151.40" y2="337.90" stroke="#222" stroke-width="1.0" />
<line x1="145.80" y1="367.50" x2="151.40" y2="367.50" stroke="#222" stroke-width="1.0" />
<polyline points="109.10,350.10 109.10,310.60 148.50,310.60 148.50,316.20" fill="none" stroke="#333" stroke-width="1.0"/>
<polyline points="129.00,348.80 129.00,319.50 148.50,319.50 148.50,321.80" fill="none" stroke="#333" stroke-width="1.0"/>
<text x="128.70" y="309.80" font-size="7.4" text-anchor="middle" font-weight="normal" fill="#1a1a1a" stroke="#1a1a1a" stroke-width="0.3" font-family='"Liberation Sans", sans-serif' >#</text>
<text x="139.00" y="318.40" font-size="7.4" text-anchor="middle" font-weight="normal" fill="#1a1a1a" stroke="#1a1a1a" stroke-width="0.3" font-family='"Liberation Sans", sans-serif' >#</text>
<polygon points="145.75,325.40 146.40,326.71 147.84,326.92 146.80,327.94 147.04,329.38 145.75,328.70 144.46,329.38 144.70,327.94 143.66,326.92 145.10,326.71" fill="#000" stroke="#000" stroke-width="0.4" stroke-linejoin="round"/>
<polygon points="150.85,325.40 151.50,326.71 152.94,326.92 151.90,327.94 152.14,329.38 150.85,328.70 149.56,329.38 149.80,327.94 148.76,326.92 150.20,326.71" fill="#000" stroke="#000" stroke-width="0.4" stroke-linejoin="round"/>
<text x="109.30" y="355.30" font-size="6.6" text-anchor="middle" font-weight="normal" fill="#1a1a1a" stroke="#1a1a1a" stroke-width="0.3" font-family='"Liberation Sans", sans-serif' >n.s.</text>
<text x="129.00" y="353.70" font-size="6.6" text-anchor="middle" font-weight="normal" fill="#1a1a1a" stroke="#1a1a1a" stroke-width="0.3" font-family='"Liberation Sans", sans-serif' >n.s.</text>
<text x="182.60" y="311.60" font-size="16" text-anchor="start" font-weight="bold" fill="#000" font-family='"Liberation Sans", sans-serif' >F</text>
<line x1="198.30" y1="324.40" x2="198.30" y2="419.10" stroke="#505050" stroke-width="1.0" />
<line x1="197.80" y1="419.10" x2="339.50" y2="419.10" stroke="#505050" stroke-width="1.0" />
<line x1="196.10" y1="419.10" x2="198.30" y2="419.10" stroke="#505050" stroke-width="1.0" />
<text x="195.30" y="421.60" font-size="6.6" text-anchor="end" font-weight="normal" fill="#1a1a1a" stroke="#1a1a1a" stroke-width="0.3" font-family='"Liberation Sans", sans-serif' >0</text>
<line x1="196.10" y1="395.55" x2="198.30" y2="395.55" stroke="#505050" stroke-width="1.0" />
<text x="195.30" y="398.05" font-size="6.6" text-anchor="end" font-weight="normal" fill="#1a1a1a" stroke="#1a1a1a" stroke-width="0.3" font-family='"Liberation Sans", sans-serif' >2</text>
<line x1="196.10" y1="372.00" x2="198.30" y2="372.00" stroke="#505050" stroke-width="1.0" />
<text x="195.30" y="374.50" font-size="6.6" text-anchor="end" font-weight="normal" fill="#1a1a1a" stroke="#1a1a1a" stroke-width="0.3" font-family='"Liberation Sans", sans-serif' >4</text>
<line x1="196.10" y1="348.45" x2="198.30" y2="348.45" stroke="#505050" stroke-width="1.0" />
<text x="195.30" y="350.95" font-size="6.6" text-anchor="end" font-weight="normal" fill="#1a1a1a" stroke="#1a1a1a" stroke-width="0.3" font-family='"Liberation Sans", sans-serif' >6</text>
<line x1="196.10" y1="324.90" x2="198.30" y2="324.90" stroke="#505050" stroke-width="1.0" />
<text x="195.30" y="327.40" font-size="6.6" text-anchor="end" font-weight="normal" fill="#1a1a1a" stroke="#1a1a1a" stroke-width="0.3" font-family='"Liberation Sans", sans-serif' >8</text>
<line x1="232.30" y1="419.10" x2="232.30" y2="421.30" stroke="#505050" stroke-width="1.0" />
<text x="234.70" y="426.70" font-size="6.8" text-anchor="end" font-weight="normal" fill="#1a1a1a" stroke="#1a1a1a" stroke-width="0.3" font-family='"Liberation Sans", sans-serif' transform="rotate(-45 234.70 426.70)" >1</text>
<line x1="306.30" y1="419.10" x2="306.30" y2="421.30" stroke="#505050" stroke-width="1.0" />
<text x="308.70" y="426.70" font-size="6.8" text-anchor="end" font-weight="normal" fill="#1a1a1a" stroke="#1a1a1a" stroke-width="0.3" font-family='"Liberation Sans", sans-serif' transform="rotate(-45 308.70 426.70)" >10</text>
<text x="270.00" y="443.40" font-size="7.4" text-anchor="middle" font-weight="normal" fill="#1a1a1a" stroke="#1a1a1a" stroke-width="0.3" font-family='"Liberation Sans", sans-serif' >Weeks in HFD</text>
<text x="185.80" y="373.50" font-size="7.1" text-anchor="middle" font-weight="normal" fill="#1a1a1a" stroke="#1a1a1a" stroke-width="0.3" font-family='"Liberation Sans", sans-serif' transform="rotate(-90 185.80 373.50)" xml:space="preserve">Random Serum  Insulin (ng/mL)</text>
<circle cx="206.40" cy="328.40" r="1.35" fill="#fff" stroke="#1a1a1a" stroke-width="0.8"/>
<text x="217.40" y="331.20" font-size="7.7" text-anchor="start" font-weight="normal" fill="#1a1a1a" stroke="#1a1a1a" stroke-width="0.3" font-family='"Liberation Sans", sans-serif' >WT</text>
<circle cx="206.40" cy="336.50" r="1.35" fill="#8c8c8c" stroke="#1a1a1a" stroke-width="0.8"/>
<text x="217.40" y="339.30" font-size="7.7" text-anchor="start" font-weight="normal" fill="#1a1a1a" stroke="#1a1a1a" stroke-width="0.3" font-family='"Liberation Sans", sans-serif' >eIF4G1f/f</text>
<circle cx="206.40" cy="344.60" r="1.35" fill="#000" stroke="#1a1a1a" stroke-width="0.8"/>
<text x="217.40" y="347.40" font-size="7.7" text-anchor="start" font-weight="normal" fill="#1a1a1a" stroke="#1a1a1a" stroke-width="0.3" font-family='"Liberation Sans", sans-serif' >&#946;eIF4G1KO</text>
<circle cx="211.90" cy="384.00" r="1.9" fill="#fff" stroke="#1a1a1a" stroke-width="0.9"/>
<circle cx="211.90" cy="392.90" r="1.9" fill="#fff" stroke="#1a1a1a" stroke-width="0.9"/>
<circle cx="211.90" cy="401.60" r="1.9" fill="#fff" stroke="#1a1a1a" stroke-width="0.9"/>
<circle cx="211.90" cy="408.10" r="1.9" fill="#fff" stroke="#1a1a1a" stroke-width="0.9"/>
<line x1="205.60" y1="397.10" x2="218.20" y2="397.10" stroke="#222" stroke-width="1.2" />
<line x1="211.90" y1="386.50" x2="211.90" y2="407.50" stroke="#222" stroke-width="1.0" />
<line x1="209.10" y1="386.50" x2="214.70" y2="386.50" stroke="#222" stroke-width="1.0" />
<line x1="209.10" y1="407.50" x2="214.70" y2="407.50" stroke="#222" stroke-width="1.0" />
<circle cx="232.30" cy="387.50" r="1.9" fill="#909090" stroke="#1a1a1a" stroke-width="0.9"/>
<circle cx="229.00" cy="391.30" r="1.9" fill="#909090" stroke="#1a1a1a" stroke-width="0.9"/>
<circle cx="235.30" cy="395.40" r="1.9" fill="#909090" stroke="#1a1a1a" stroke-width="0.9"/>
<circle cx="235.00" cy="402.50" r="1.9" fill="#909090" stroke="#1a1a1a" stroke-width="0.9"/>
<circle cx="229.00" cy="407.10" r="1.9" fill="#909090" stroke="#1a1a1a" stroke-width="0.9"/>
<line x1="226.00" y1="397.10" x2="238.60" y2="397.10" stroke="#222" stroke-width="1.2" />
<line x1="232.30" y1="388.00" x2="232.30" y2="404.40" stroke="#222" stroke-width="1.0" />
<line x1="229.50" y1="388.00" x2="235.10" y2="388.00" stroke="#222" stroke-width="1.0" />
<line x1="229.50" y1="404.40" x2="235.10" y2="404.40" stroke="#222" stroke-width="1.0" />
<circle cx="252.30" cy="387.30" r="1.9" fill="#000" stroke="#1a1a1a" stroke-width="0.9"/>
<circle cx="249.40" cy="393.80" r="1.9" fill="#000" stroke="#1a1a1a" stroke-width="0.9"/>
<circle cx="255.30" cy="393.40" r="1.9" fill="#000" stroke="#1a1a1a" stroke-width="0.9"/>
<circle cx="252.30" cy="399.40" r="1.9" fill="#000" stroke="#1a1a1a" stroke-width="0.9"/>
<circle cx="252.30" cy="406.00" r="1.9" fill="#000" stroke="#1a1a1a" stroke-width="0.9"/>
<line x1="246.00" y1="396.30" x2="258.60" y2="396.30" stroke="#222" stroke-width="1.2" />
<line x1="252.30" y1="388.00" x2="252.30" y2="403.50" stroke="#222" stroke-width="1.0" />
<line x1="249.50" y1="388.00" x2="255.10" y2="388.00" stroke="#222" stroke-width="1.0" />
<line x1="249.50" y1="403.50" x2="255.10" y2="403.50" stroke="#222" stroke-width="1.0" />
<circle cx="285.90" cy="352.70" r="1.9" fill="#fff" stroke="#1a1a1a" stroke-width="0.9"/>
<circle cx="285.90" cy="364.30" r="1.9" fill="#fff" stroke="#1a1a1a" stroke-width="0.9"/>
<circle cx="289.20" cy="366.20" r="1.9" fill="#fff" stroke="#1a1a1a" stroke-width="0.9"/>
<circle cx="283.00" cy="371.50" r="1.9" fill="#fff" stroke="#1a1a1a" stroke-width="0.9"/>
<line x1="279.60" y1="364.00" x2="292.20" y2="364.00" stroke="#222" stroke-width="1.2" />
<line x1="285.90" y1="356.30" x2="285.90" y2="371.50" stroke="#222" stroke-width="1.0" />
<line x1="283.10" y1="356.30" x2="288.70" y2="356.30" stroke="#222" stroke-width="1.0" />
<line x1="283.10" y1="371.50" x2="288.70" y2="371.50" stroke="#222" stroke-width="1.0" />
<circle cx="306.40" cy="349.50" r="1.9" fill="#909090" stroke="#1a1a1a" stroke-width="0.9"/>
<circle cx="306.40" cy="369.10" r="1.9" fill="#909090" stroke="#1a1a1a" stroke-width="0.9"/>
<circle cx="306.40" cy="379.60" r="1.9" fill="#909090" stroke="#1a1a1a" stroke-width="0.9"/>
<circle cx="309.60" cy="383.60" r="1.9" fill="#909090" stroke="#1a1a1a" stroke-width="0.9"/>
<circle cx="303.60" cy="386.50" r="1.9" fill="#909090" stroke="#1a1a1a" stroke-width="0.9"/>
<line x1="300.10" y1="374.00" x2="312.70" y2="374.00" stroke="#222" stroke-width="1.2" />
<line x1="306.40" y1="359.20" x2="306.40" y2="388.10" stroke="#222" stroke-width="1.0" />
<line x1="303.60" y1="359.20" x2="309.20" y2="359.20" stroke="#222" stroke-width="1.0" />
<line x1="303.60" y1="388.10" x2="309.20" y2="388.10" stroke="#222" stroke-width="1.0" />
<circle cx="323.60" cy="390.90" r="1.9" fill="#000" stroke="#1a1a1a" stroke-width="0.9"/>
<circle cx="329.70" cy="392.50" r="1.9" fill="#000" stroke="#1a1a1a" stroke-width="0.9"/>
<circle cx="323.00" cy="407.00" r="1.9" fill="#000" stroke="#1a1a1a" stroke-width="0.9"/>
<circle cx="326.50" cy="412.30" r="1.9" fill="#000" stroke="#1a1a1a" stroke-width="0.9"/>
<circle cx="330.50" cy="410.60" r="1.9" fill="#000" stroke="#1a1a1a" stroke-width="0.9"/>
<line x1="320.50" y1="402.10" x2="333.10" y2="402.10" stroke="#222" stroke-width="1.2" />
<line x1="326.80" y1="393.00" x2="326.80" y2="412.60" stroke="#222" stroke-width="1.0" />
<line x1="324.00" y1="393.00" x2="329.60" y2="393.00" stroke="#222" stroke-width="1.0" />
<line x1="324.00" y1="412.60" x2="329.60" y2="412.60" stroke="#222" stroke-width="1.0" />
<polyline points="285.90,342.00 285.90,326.50 326.80,326.50 326.80,379.60" fill="none" stroke="#333" stroke-width="1.0"/>
<polyline points="306.40,339.40 306.40,337.30 326.80,337.30" fill="none" stroke="#333" stroke-width="1.0"/>
<text x="297.70" y="324.50" font-size="8.6" text-anchor="start" font-weight="bold" fill="#1a1a1a" font-family='"Liberation Sans", sans-serif' textLength="16.5" lengthAdjust="spacingAndGlyphs">####</text>
<text x="310.80" y="334.60" font-size="7.0" text-anchor="start" font-weight="bold" fill="#1a1a1a" font-family='"Liberation Sans", sans-serif' textLength="12" lengthAdjust="spacingAndGlyphs">###</text>
<polygon points="283.75,344.10 284.37,345.35 285.75,345.55 284.75,346.52 284.98,347.90 283.75,347.25 282.52,347.90 282.75,346.52 281.75,345.55 283.13,345.35" fill="#000" stroke="#000" stroke-width="0.4" stroke-linejoin="round"/>
<polygon points="288.85,344.10 289.47,345.35 290.85,345.55 289.85,346.52 290.08,347.90 288.85,347.25 287.62,347.90 287.85,346.52 286.85,345.55 288.23,345.35" fill="#000" stroke="#000" stroke-width="0.4" stroke-linejoin="round"/>
<polygon points="306.50,340.00 307.18,341.37 308.69,341.59 307.59,342.66 307.85,344.16 306.50,343.45 305.15,344.16 305.41,342.66 304.31,341.59 305.82,341.37" fill="#000" stroke="#000" stroke-width="0.4" stroke-linejoin="round"/>
<text x="326.80" y="385.30" font-size="6.6" text-anchor="middle" font-weight="normal" fill="#1a1a1a" stroke="#1a1a1a" stroke-width="0.3" font-family='"Liberation Sans", sans-serif' >n.s.</text>
<text x="343.20" y="312.80" font-size="16" text-anchor="start" font-weight="bold" fill="#000" font-family='"Liberation Sans", sans-serif' >G</text>
<line x1="366.30" y1="321.90" x2="366.30" y2="417.60" stroke="#505050" stroke-width="1.0" />
<line x1="365.80" y1="417.60" x2="504.00" y2="417.60" stroke="#505050" stroke-width="1.0" />
<line x1="383.60" y1="417.60" x2="383.60" y2="420.10" stroke="#505050" stroke-width="1.0" />
<line x1="410.40" y1="417.60" x2="410.40" y2="420.10" stroke="#505050" stroke-width="1.0" />
<line x1="436.90" y1="417.60" x2="436.90" y2="420.10" stroke="#505050" stroke-width="1.0" />
<line x1="463.50" y1="417.60" x2="463.50" y2="420.10" stroke="#505050" stroke-width="1.0" />
<line x1="490.10" y1="417.60" x2="490.10" y2="420.10" stroke="#505050" stroke-width="1.0" />
<line x1="364.10" y1="417.60" x2="366.30" y2="417.60" stroke="#505050" stroke-width="1.0" />
<text x="363.90" y="420.00" font-size="6.6" text-anchor="end" font-weight="normal" fill="#1a1a1a" stroke="#1a1a1a" stroke-width="0.3" font-family='"Liberation Sans", sans-serif' >0</text>
<line x1="364.10" y1="393.80" x2="366.30" y2="393.80" stroke="#505050" stroke-width="1.0" />
<text x="363.90" y="396.20" font-size="6.6" text-anchor="end" font-weight="normal" fill="#1a1a1a" stroke="#1a1a1a" stroke-width="0.3" font-family='"Liberation Sans", sans-serif' >1</text>
<line x1="364.10" y1="370.00" x2="366.30" y2="370.00" stroke="#505050" stroke-width="1.0" />
<text x="363.90" y="372.40" font-size="6.6" text-anchor="end" font-weight="normal" fill="#1a1a1a" stroke="#1a1a1a" stroke-width="0.3" font-family='"Liberation Sans", sans-serif' >2</text>
<line x1="364.10" y1="346.20" x2="366.30" y2="346.20" stroke="#505050" stroke-width="1.0" />
<text x="363.90" y="348.60" font-size="6.6" text-anchor="end" font-weight="normal" fill="#1a1a1a" stroke="#1a1a1a" stroke-width="0.3" font-family='"Liberation Sans", sans-serif' >3</text>
<line x1="364.10" y1="322.40" x2="366.30" y2="322.40" stroke="#505050" stroke-width="1.0" />
<text x="363.90" y="324.80" font-size="6.6" text-anchor="end" font-weight="normal" fill="#1a1a1a" stroke="#1a1a1a" stroke-width="0.3" font-family='"Liberation Sans", sans-serif' >4</text>
<text x="355.00" y="371.00" font-size="7.6" text-anchor="middle" font-weight="normal" fill="#1a1a1a" stroke="#1a1a1a" stroke-width="0.3" font-family='"Liberation Sans", sans-serif' transform="rotate(-90 355.00 371.00)" >&#946;-cell Mass (mg)</text>
<rect x="374.3" y="387.9" width="18.70" height="29.70" fill="#fff" stroke="#dedede" stroke-width="1"/>
<line x1="374.80" y1="387.90" x2="392.50" y2="387.90" stroke="#dedede" stroke-width="1.0" />
<rect x="401.0" y="387.5" width="18.80" height="30.10" fill="#fff" stroke="#dedede" stroke-width="1"/>
<line x1="401.50" y1="387.50" x2="419.30" y2="387.50" stroke="#dedede" stroke-width="1.0" />
<rect x="427.6" y="368.5" width="18.60" height="49.10" fill="#fff" stroke="#1a1a1a" stroke-width="1"/>
<line x1="428.10" y1="368.50" x2="445.70" y2="368.50" stroke="#1a1a1a" stroke-width="1.0" />
<rect x="454.2" y="364.2" width="18.60" height="53.40" fill="#e0e0e0" stroke="#1a1a1a" stroke-width="1"/>
<line x1="454.70" y1="364.20" x2="472.30" y2="364.20" stroke="#1a1a1a" stroke-width="1.0" />
<rect x="480.8" y="374.2" width="18.60" height="43.40" fill="#a0a0a0" stroke="#1a1a1a" stroke-width="1"/>
<line x1="481.30" y1="374.20" x2="498.90" y2="374.20" stroke="#1a1a1a" stroke-width="1.0" />
<circle cx="381.00" cy="383.60" r="2.1" fill="#fff" stroke="#a8a8a8" stroke-width="0.9"/>
<circle cx="383.60" cy="382.80" r="2.1" fill="#fff" stroke="#a8a8a8" stroke-width="0.9"/>
<circle cx="386.30" cy="387.90" r="2.1" fill="#fff" stroke="#a8a8a8" stroke-width="0.9"/>
<circle cx="389.20" cy="388.50" r="2.1" fill="#fff" stroke="#a8a8a8" stroke-width="0.9"/>
<circle cx="386.30" cy="391.90" r="2.1" fill="#fff" stroke="#a8a8a8" stroke-width="0.9"/>
<circle cx="380.60" cy="396.80" r="2.1" fill="#fff" stroke="#a8a8a8" stroke-width="0.9"/>
<circle cx="404.40" cy="380.10" r="2.1" fill="#fff" stroke="#a8a8a8" stroke-width="0.9"/>
<circle cx="415.70" cy="380.40" r="2.1" fill="#fff" stroke="#a8a8a8" stroke-width="0.9"/>
<circle cx="410.20" cy="384.80" r="2.1" fill="#fff" stroke="#a8a8a8" stroke-width="0.9"/>
<circle cx="410.60" cy="393.10" r="2.1" fill="#fff" stroke="#a8a8a8" stroke-width="0.9"/>
<circle cx="410.20" cy="398.60" r="2.1" fill="#fff" stroke="#a8a8a8" stroke-width="0.9"/>
<circle cx="434.00" cy="359.70" r="2.1" fill="#fff" stroke="#1a1a1a" stroke-width="0.9"/>
<circle cx="439.80" cy="357.60" r="2.1" fill="#fff" stroke="#1a1a1a" stroke-width="0.9"/>
<circle cx="437.20" cy="372.00" r="2.1" fill="#fff" stroke="#1a1a1a" stroke-width="0.9"/>
<circle cx="436.80" cy="383.40" r="2.1" fill="#fff" stroke="#1a1a1a" stroke-width="0.9"/>
<circle cx="463.60" cy="346.20" r="2.1" fill="#c4c4c4" stroke="#333" stroke-width="1.0"/>
<circle cx="463.60" cy="358.20" r="2.1" fill="#c4c4c4" stroke="#333" stroke-width="1.0"/>
<circle cx="460.40" cy="367.70" r="2.1" fill="#c4c4c4" stroke="#333" stroke-width="1.0"/>
<circle cx="466.20" cy="369.00" r="2.1" fill="#c4c4c4" stroke="#333" stroke-width="1.0"/>
<circle cx="463.60" cy="379.10" r="2.1" fill="#c4c4c4" stroke="#333" stroke-width="1.0"/>
<circle cx="489.80" cy="363.00" r="2.1" fill="#000" stroke="#1a1a1a" stroke-width="0.9"/>
<circle cx="487.00" cy="369.80" r="2.1" fill="#000" stroke="#1a1a1a" stroke-width="0.9"/>
<circle cx="493.00" cy="375.40" r="2.1" fill="#000" stroke="#1a1a1a" stroke-width="0.9"/>
<circle cx="487.00" cy="381.20" r="2.1" fill="#000" stroke="#1a1a1a" stroke-width="0.9"/>
<circle cx="493.00" cy="381.20" r="2.1" fill="#000" stroke="#1a1a1a" stroke-width="0.9"/>
<line x1="383.65" y1="385.00" x2="383.65" y2="391.00" stroke="#9a9a9a" stroke-width="0.9" />
<line x1="380.85" y1="385.00" x2="386.45" y2="385.00" stroke="#9a9a9a" stroke-width="0.9" />
<line x1="380.85" y1="391.00" x2="386.45" y2="391.00" stroke="#9a9a9a" stroke-width="0.9" />
<line x1="380.45" y1="387.90" x2="386.85" y2="387.90" stroke="#9a9a9a" stroke-width="1.0" />
<line x1="410.40" y1="383.60" x2="410.40" y2="391.00" stroke="#9a9a9a" stroke-width="0.9" />
<line x1="407.60" y1="383.60" x2="413.20" y2="383.60" stroke="#9a9a9a" stroke-width="0.9" />
<line x1="407.60" y1="391.00" x2="413.20" y2="391.00" stroke="#9a9a9a" stroke-width="0.9" />
<line x1="407.20" y1="387.50" x2="413.60" y2="387.50" stroke="#9a9a9a" stroke-width="1.0" />
<line x1="436.90" y1="362.50" x2="436.90" y2="374.10" stroke="#1a1a1a" stroke-width="0.9" />
<line x1="434.10" y1="362.50" x2="439.70" y2="362.50" stroke="#1a1a1a" stroke-width="0.9" />
<line x1="434.10" y1="374.10" x2="439.70" y2="374.10" stroke="#1a1a1a" stroke-width="0.9" />
<line x1="433.70" y1="368.50" x2="440.10" y2="368.50" stroke="#1a1a1a" stroke-width="1.0" />
<line x1="463.50" y1="358.20" x2="463.50" y2="369.40" stroke="#1a1a1a" stroke-width="0.9" />
<line x1="460.70" y1="358.20" x2="466.30" y2="358.20" stroke="#1a1a1a" stroke-width="0.9" />
<line x1="460.70" y1="369.40" x2="466.30" y2="369.40" stroke="#1a1a1a" stroke-width="0.9" />
<line x1="460.30" y1="364.20" x2="466.70" y2="364.20" stroke="#1a1a1a" stroke-width="1.0" />
<line x1="490.10" y1="370.50" x2="490.10" y2="377.60" stroke="#1a1a1a" stroke-width="0.9" />
<line x1="487.30" y1="370.50" x2="492.90" y2="370.50" stroke="#1a1a1a" stroke-width="0.9" />
<line x1="487.30" y1="377.60" x2="492.90" y2="377.60" stroke="#1a1a1a" stroke-width="0.9" />
<line x1="486.90" y1="374.20" x2="493.30" y2="374.20" stroke="#1a1a1a" stroke-width="1.0" />
<line x1="436.10" y1="337.20" x2="489.80" y2="337.20" stroke="#1a1a1a" stroke-width="0.9" />
<text x="462.00" y="335.50" font-size="6.6" text-anchor="middle" font-weight="normal" fill="#1a1a1a" stroke="#1a1a1a" stroke-width="0.3" font-family='"Liberation Sans", sans-serif' >n.s.</text>
<polygon points="437.00,345.70 437.71,347.13 439.28,347.36 438.14,348.47 438.41,350.04 437.00,349.30 435.59,350.04 435.86,348.47 434.72,347.36 436.29,347.13" fill="#000" stroke="#000" stroke-width="0.4" stroke-linejoin="round"/>
<polygon points="489.90,350.60 490.61,352.03 492.18,352.26 491.04,353.37 491.31,354.94 489.90,354.20 488.49,354.94 488.76,353.37 487.62,352.26 489.19,352.03" fill="#000" stroke="#000" stroke-width="0.4" stroke-linejoin="round"/>
<text x="385.50" y="425.70" font-size="7.4" text-anchor="end" font-weight="normal" fill="#1a1a1a" stroke="#1a1a1a" stroke-width="0.35" font-family='"Liberation Sans", sans-serif' transform="rotate(-45 385.50 425.70)" >WT</text>
<text x="412.20" y="425.70" font-size="7.4" text-anchor="end" font-weight="normal" fill="#1a1a1a" stroke="#1a1a1a" stroke-width="0.35" font-family='"Liberation Sans", sans-serif' transform="rotate(-45 412.20 425.70)" >&#946;eIF4G1KO</text>
<text x="438.90" y="425.70" font-size="7.4" text-anchor="end" font-weight="normal" fill="#1a1a1a" stroke="#1a1a1a" stroke-width="0.35" font-family='"Liberation Sans", sans-serif' transform="rotate(-45 438.90 425.70)" >WT</text>
<text x="465.50" y="425.70" font-size="7.4" text-anchor="end" font-weight="normal" fill="#1a1a1a" stroke="#1a1a1a" stroke-width="0.35" font-family='"Liberation Sans", sans-serif' transform="rotate(-45 465.50 425.70)" >eIF4G1f/f</text>
<text x="492.10" y="425.70" font-size="7.4" text-anchor="end" font-weight="normal" fill="#1a1a1a" stroke="#1a1a1a" stroke-width="0.35" font-family='"Liberation Sans", sans-serif' transform="rotate(-45 492.10 425.70)" >&#946;eIF4G1KO</text>
<line x1="382.20" y1="458.80" x2="410.20" y2="458.80" stroke="#666" stroke-width="1.5" />
<line x1="435.40" y1="458.80" x2="490.40" y2="458.80" stroke="#666" stroke-width="1.5" />
<text x="396.90" y="466.00" font-size="6.9" text-anchor="middle" font-weight="normal" fill="#1a1a1a" stroke="#1a1a1a" stroke-width="0.35" font-family='"Liberation Sans", sans-serif' >SD</text>
<text x="462.70" y="466.00" font-size="6.9" text-anchor="middle" font-weight="normal" fill="#1a1a1a" stroke="#1a1a1a" stroke-width="0.35" font-family='"Liberation Sans", sans-serif' >HFD</text>
</svg></body></html>
